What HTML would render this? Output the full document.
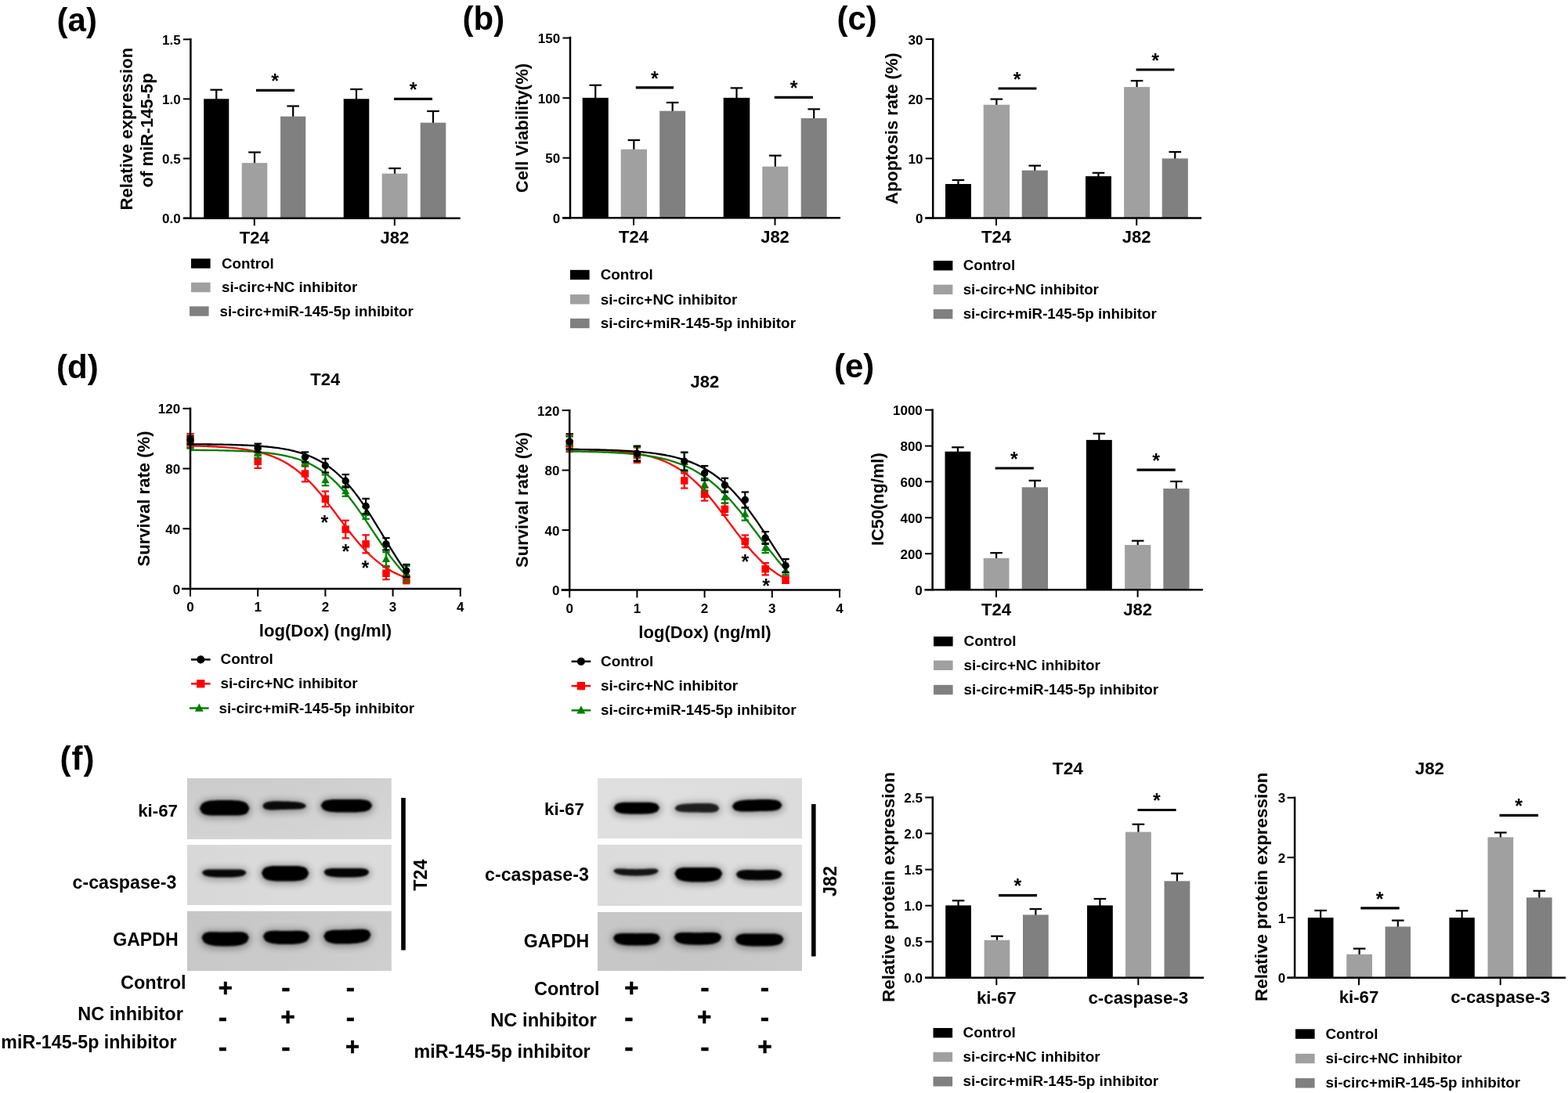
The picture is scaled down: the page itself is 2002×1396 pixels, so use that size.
<!DOCTYPE html>
<html lang="en">
<head>
<meta charset="utf-8">
<title>Figure</title>
<style>html,body{margin:0;padding:0;background:#fff;}svg{display:block;}text{font-family:"Liberation Sans",Arial,Helvetica,sans-serif;font-weight:bold;}</style>
</head>
<body>
<svg width="2002" height="1396" viewBox="0 0 2002 1396" font-family="'Liberation Sans', Arial, Helvetica, sans-serif" font-weight="bold">
<defs><filter id="blur1" x="-30%" y="-100%" width="160%" height="300%"><feGaussianBlur stdDeviation="1.3"/></filter><filter id="blur2" x="-30%" y="-100%" width="160%" height="300%"><feGaussianBlur stdDeviation="4.5"/></filter></defs>
<rect width="2002" height="1396" fill="#fff"/>
<text x="72.60" y="39.80" font-size="42" text-anchor="start" fill="#000">(a)</text>
<text x="590.60" y="37.60" font-size="42" text-anchor="start" fill="#000">(b)</text>
<text x="1068.40" y="38.00" font-size="42" text-anchor="start" fill="#000">(c)</text>
<text x="72.00" y="483.00" font-size="42" text-anchor="start" fill="#000">(d)</text>
<text x="1065.00" y="482.00" font-size="42" text-anchor="start" fill="#000">(e)</text>
<text x="76.50" y="983.00" font-size="42" text-anchor="start" fill="#000" letter-spacing="1">(f)</text>
<g id="pa">
<line x1="276.25" y1="114.70" x2="276.25" y2="127.60" stroke="#000000" stroke-width="2.2" stroke-linecap="butt"/>
<line x1="268.45" y1="114.70" x2="284.05" y2="114.70" stroke="#000" stroke-width="2.2" stroke-linecap="butt"/>
<rect x="260.20" y="126.30" width="32.10" height="152.40" fill="#000000"/>
<line x1="325.00" y1="194.50" x2="325.00" y2="209.40" stroke="#000" stroke-width="2.2" stroke-linecap="butt"/>
<line x1="317.20" y1="194.50" x2="332.80" y2="194.50" stroke="#000" stroke-width="2.2" stroke-linecap="butt"/>
<rect x="308.70" y="208.10" width="32.60" height="70.60" fill="#a0a0a1"/>
<line x1="374.20" y1="135.50" x2="374.20" y2="150.00" stroke="#000" stroke-width="2.2" stroke-linecap="butt"/>
<line x1="366.40" y1="135.50" x2="382.00" y2="135.50" stroke="#000" stroke-width="2.2" stroke-linecap="butt"/>
<rect x="358.10" y="148.70" width="32.20" height="130.00" fill="#808080"/>
<line x1="455.00" y1="114.00" x2="455.00" y2="127.60" stroke="#000000" stroke-width="2.2" stroke-linecap="butt"/>
<line x1="447.20" y1="114.00" x2="462.80" y2="114.00" stroke="#000" stroke-width="2.2" stroke-linecap="butt"/>
<rect x="438.70" y="126.30" width="32.60" height="152.40" fill="#000000"/>
<line x1="504.00" y1="215.00" x2="504.00" y2="223.00" stroke="#000" stroke-width="2.2" stroke-linecap="butt"/>
<line x1="496.20" y1="215.00" x2="511.80" y2="215.00" stroke="#000" stroke-width="2.2" stroke-linecap="butt"/>
<rect x="487.70" y="221.70" width="32.60" height="57.00" fill="#a0a0a1"/>
<line x1="553.00" y1="142.00" x2="553.00" y2="158.00" stroke="#000" stroke-width="2.2" stroke-linecap="butt"/>
<line x1="545.20" y1="142.00" x2="560.80" y2="142.00" stroke="#000" stroke-width="2.2" stroke-linecap="butt"/>
<rect x="536.70" y="156.70" width="32.60" height="122.00" fill="#808080"/>
<line x1="243.40" y1="49.05" x2="243.40" y2="279.95" stroke="#000" stroke-width="2.5" stroke-linecap="butt"/>
<line x1="234.00" y1="278.70" x2="587.70" y2="278.70" stroke="#000" stroke-width="2.5" stroke-linecap="butt"/>
<line x1="233.80" y1="50.30" x2="243.40" y2="50.30" stroke="#000" stroke-width="2.0" stroke-linecap="butt"/>
<text x="230.60" y="56.80" font-size="17" text-anchor="end" fill="#000">1.5</text>
<line x1="233.80" y1="126.40" x2="243.40" y2="126.40" stroke="#000" stroke-width="2.0" stroke-linecap="butt"/>
<text x="230.60" y="132.90" font-size="17" text-anchor="end" fill="#000">1.0</text>
<line x1="233.80" y1="202.50" x2="243.40" y2="202.50" stroke="#000" stroke-width="2.0" stroke-linecap="butt"/>
<text x="230.60" y="209.00" font-size="17" text-anchor="end" fill="#000">0.5</text>
<line x1="233.80" y1="278.70" x2="243.40" y2="278.70" stroke="#000" stroke-width="2.0" stroke-linecap="butt"/>
<text x="230.60" y="285.20" font-size="17" text-anchor="end" fill="#000">0.0</text>
<line x1="324.80" y1="278.70" x2="324.80" y2="288.20" stroke="#000" stroke-width="2.0" stroke-linecap="butt"/>
<text x="324.80" y="310.60" font-size="22" text-anchor="middle" fill="#000">T24</text>
<line x1="503.80" y1="278.70" x2="503.80" y2="288.20" stroke="#000" stroke-width="2.0" stroke-linecap="butt"/>
<text x="503.80" y="310.60" font-size="22" text-anchor="middle" fill="#000">J82</text>
<line x1="327.00" y1="115.40" x2="376.00" y2="115.40" stroke="#000" stroke-width="3.2" stroke-linecap="butt"/>
<text x="351.00" y="112.12" font-size="25" text-anchor="middle" fill="#000">*</text>
<line x1="503.00" y1="126.40" x2="552.00" y2="126.40" stroke="#000" stroke-width="3.2" stroke-linecap="butt"/>
<text x="527.50" y="123.12" font-size="25" text-anchor="middle" fill="#000">*</text>
<text x="168.70" y="164.60" font-size="22.1" text-anchor="middle" fill="#000" transform="rotate(-90 168.70 164.60)">Relative expression</text>
<text x="195.20" y="166.40" font-size="22.1" text-anchor="middle" fill="#000" transform="rotate(-90 195.20 166.40)">of miR-145-5p</text>
<rect x="244.00" y="330.30" width="24.60" height="12.40" fill="#000000"/>
<text x="283.00" y="342.50" font-size="18.74" text-anchor="start" fill="#000">Control</text>
<rect x="244.00" y="360.80" width="24.60" height="12.40" fill="#a0a0a1"/>
<text x="283.00" y="373.00" font-size="18.74" text-anchor="start" fill="#000">si-circ+NC inhibitor</text>
<rect x="242.00" y="391.30" width="24.60" height="12.40" fill="#808080"/>
<text x="280.50" y="403.50" font-size="18.74" text-anchor="start" fill="#000">si-circ+miR-145-5p inhibitor</text>
</g>
<g id="pb">
<line x1="760.25" y1="108.80" x2="760.25" y2="126.20" stroke="#000000" stroke-width="2.2" stroke-linecap="butt"/>
<line x1="752.45" y1="108.80" x2="768.05" y2="108.80" stroke="#000" stroke-width="2.2" stroke-linecap="butt"/>
<rect x="743.70" y="124.90" width="33.10" height="153.30" fill="#000000"/>
<line x1="809.35" y1="179.00" x2="809.35" y2="192.00" stroke="#000" stroke-width="2.2" stroke-linecap="butt"/>
<line x1="801.55" y1="179.00" x2="817.15" y2="179.00" stroke="#000" stroke-width="2.2" stroke-linecap="butt"/>
<rect x="792.70" y="190.70" width="33.30" height="87.50" fill="#a0a0a1"/>
<line x1="858.65" y1="131.00" x2="858.65" y2="143.00" stroke="#000" stroke-width="2.2" stroke-linecap="butt"/>
<line x1="850.85" y1="131.00" x2="866.45" y2="131.00" stroke="#000" stroke-width="2.2" stroke-linecap="butt"/>
<rect x="842.20" y="141.70" width="32.90" height="136.50" fill="#808080"/>
<line x1="940.50" y1="112.40" x2="940.50" y2="126.20" stroke="#000000" stroke-width="2.2" stroke-linecap="butt"/>
<line x1="932.70" y1="112.40" x2="948.30" y2="112.40" stroke="#000" stroke-width="2.2" stroke-linecap="butt"/>
<rect x="923.70" y="124.90" width="33.60" height="153.30" fill="#000000"/>
<line x1="989.80" y1="198.70" x2="989.80" y2="214.00" stroke="#000" stroke-width="2.2" stroke-linecap="butt"/>
<line x1="982.00" y1="198.70" x2="997.60" y2="198.70" stroke="#000" stroke-width="2.2" stroke-linecap="butt"/>
<rect x="973.30" y="212.70" width="33.00" height="65.50" fill="#a0a0a1"/>
<line x1="1039.20" y1="139.40" x2="1039.20" y2="152.30" stroke="#000" stroke-width="2.2" stroke-linecap="butt"/>
<line x1="1031.40" y1="139.40" x2="1047.00" y2="139.40" stroke="#000" stroke-width="2.2" stroke-linecap="butt"/>
<rect x="1022.70" y="151.00" width="33.00" height="127.20" fill="#808080"/>
<line x1="728.00" y1="46.75" x2="728.00" y2="279.45" stroke="#000" stroke-width="2.5" stroke-linecap="butt"/>
<line x1="718.00" y1="278.20" x2="1073.00" y2="278.20" stroke="#000" stroke-width="2.5" stroke-linecap="butt"/>
<line x1="718.40" y1="48.50" x2="728.00" y2="48.50" stroke="#000" stroke-width="2.0" stroke-linecap="butt"/>
<text x="715.20" y="55.00" font-size="17" text-anchor="end" fill="#000">150</text>
<line x1="718.40" y1="125.20" x2="728.00" y2="125.20" stroke="#000" stroke-width="2.0" stroke-linecap="butt"/>
<text x="715.20" y="131.70" font-size="17" text-anchor="end" fill="#000">100</text>
<line x1="718.40" y1="201.70" x2="728.00" y2="201.70" stroke="#000" stroke-width="2.0" stroke-linecap="butt"/>
<text x="715.20" y="208.20" font-size="17" text-anchor="end" fill="#000">50</text>
<line x1="718.40" y1="278.50" x2="728.00" y2="278.50" stroke="#000" stroke-width="2.0" stroke-linecap="butt"/>
<text x="715.20" y="285.00" font-size="17" text-anchor="end" fill="#000">0</text>
<line x1="809.00" y1="278.20" x2="809.00" y2="287.70" stroke="#000" stroke-width="2.0" stroke-linecap="butt"/>
<text x="809.00" y="310.40" font-size="22" text-anchor="middle" fill="#000">T24</text>
<line x1="989.50" y1="278.20" x2="989.50" y2="287.70" stroke="#000" stroke-width="2.0" stroke-linecap="butt"/>
<text x="989.50" y="310.40" font-size="22" text-anchor="middle" fill="#000">J82</text>
<line x1="811.80" y1="111.80" x2="860.00" y2="111.80" stroke="#000" stroke-width="3.2" stroke-linecap="butt"/>
<text x="835.90" y="108.52" font-size="25" text-anchor="middle" fill="#000">*</text>
<line x1="988.80" y1="124.30" x2="1038.00" y2="124.30" stroke="#000" stroke-width="3.2" stroke-linecap="butt"/>
<text x="1013.50" y="121.02" font-size="25" text-anchor="middle" fill="#000">*</text>
<text x="674.00" y="163.50" font-size="22.1" text-anchor="middle" fill="#000" transform="rotate(-90 674.00 163.50)">Cell Viability(%)</text>
<rect x="728.00" y="344.80" width="24.60" height="12.40" fill="#000000"/>
<text x="766.70" y="357.20" font-size="18.9" text-anchor="start" fill="#000">Control</text>
<rect x="728.00" y="376.10" width="24.60" height="12.40" fill="#a0a0a1"/>
<text x="766.70" y="388.50" font-size="18.9" text-anchor="start" fill="#000">si-circ+NC inhibitor</text>
<rect x="728.00" y="406.80" width="24.60" height="12.40" fill="#808080"/>
<text x="766.70" y="419.20" font-size="18.9" text-anchor="start" fill="#000">si-circ+miR-145-5p inhibitor</text>
</g>
<g id="pc">
<line x1="1223.45" y1="230.00" x2="1223.45" y2="236.30" stroke="#000000" stroke-width="2.2" stroke-linecap="butt"/>
<line x1="1215.65" y1="230.00" x2="1231.25" y2="230.00" stroke="#000" stroke-width="2.2" stroke-linecap="butt"/>
<rect x="1207.00" y="235.00" width="32.90" height="43.50" fill="#000000"/>
<line x1="1272.35" y1="126.60" x2="1272.35" y2="135.10" stroke="#000" stroke-width="2.2" stroke-linecap="butt"/>
<line x1="1264.55" y1="126.60" x2="1280.15" y2="126.60" stroke="#000" stroke-width="2.2" stroke-linecap="butt"/>
<rect x="1255.70" y="133.80" width="33.30" height="144.70" fill="#a0a0a1"/>
<line x1="1321.25" y1="211.60" x2="1321.25" y2="218.90" stroke="#000" stroke-width="2.2" stroke-linecap="butt"/>
<line x1="1313.45" y1="211.60" x2="1329.05" y2="211.60" stroke="#000" stroke-width="2.2" stroke-linecap="butt"/>
<rect x="1304.70" y="217.60" width="33.10" height="60.90" fill="#808080"/>
<line x1="1402.45" y1="220.80" x2="1402.45" y2="226.40" stroke="#000000" stroke-width="2.2" stroke-linecap="butt"/>
<line x1="1394.65" y1="220.80" x2="1410.25" y2="220.80" stroke="#000" stroke-width="2.2" stroke-linecap="butt"/>
<rect x="1386.00" y="225.10" width="32.90" height="53.40" fill="#000000"/>
<line x1="1451.55" y1="103.20" x2="1451.55" y2="112.40" stroke="#000" stroke-width="2.2" stroke-linecap="butt"/>
<line x1="1443.75" y1="103.20" x2="1459.35" y2="103.20" stroke="#000" stroke-width="2.2" stroke-linecap="butt"/>
<rect x="1435.10" y="111.10" width="32.90" height="167.40" fill="#a0a0a1"/>
<line x1="1500.25" y1="194.10" x2="1500.25" y2="203.70" stroke="#000" stroke-width="2.2" stroke-linecap="butt"/>
<line x1="1492.45" y1="194.10" x2="1508.05" y2="194.10" stroke="#000" stroke-width="2.2" stroke-linecap="butt"/>
<rect x="1483.70" y="202.40" width="33.10" height="76.10" fill="#808080"/>
<line x1="1191.20" y1="48.75" x2="1191.20" y2="279.75" stroke="#000" stroke-width="2.5" stroke-linecap="butt"/>
<line x1="1181.30" y1="278.50" x2="1534.00" y2="278.50" stroke="#000" stroke-width="2.5" stroke-linecap="butt"/>
<line x1="1181.60" y1="50.00" x2="1191.20" y2="50.00" stroke="#000" stroke-width="2.0" stroke-linecap="butt"/>
<text x="1178.40" y="56.50" font-size="17" text-anchor="end" fill="#000">30</text>
<line x1="1181.60" y1="126.20" x2="1191.20" y2="126.20" stroke="#000" stroke-width="2.0" stroke-linecap="butt"/>
<text x="1178.40" y="132.70" font-size="17" text-anchor="end" fill="#000">20</text>
<line x1="1181.60" y1="202.40" x2="1191.20" y2="202.40" stroke="#000" stroke-width="2.0" stroke-linecap="butt"/>
<text x="1178.40" y="208.90" font-size="17" text-anchor="end" fill="#000">10</text>
<line x1="1181.60" y1="278.50" x2="1191.20" y2="278.50" stroke="#000" stroke-width="2.0" stroke-linecap="butt"/>
<text x="1178.40" y="285.00" font-size="17" text-anchor="end" fill="#000">0</text>
<line x1="1272.00" y1="278.50" x2="1272.00" y2="288.00" stroke="#000" stroke-width="2.0" stroke-linecap="butt"/>
<text x="1272.00" y="310.40" font-size="22" text-anchor="middle" fill="#000">T24</text>
<line x1="1451.20" y1="278.50" x2="1451.20" y2="288.00" stroke="#000" stroke-width="2.0" stroke-linecap="butt"/>
<text x="1451.20" y="310.40" font-size="22" text-anchor="middle" fill="#000">J82</text>
<line x1="1274.60" y1="113.00" x2="1323.40" y2="113.00" stroke="#000" stroke-width="3.2" stroke-linecap="butt"/>
<text x="1298.60" y="109.72" font-size="25" text-anchor="middle" fill="#000">*</text>
<line x1="1450.60" y1="89.00" x2="1499.40" y2="89.00" stroke="#000" stroke-width="3.2" stroke-linecap="butt"/>
<text x="1475.00" y="85.72" font-size="25" text-anchor="middle" fill="#000">*</text>
<text x="1146.50" y="164.20" font-size="21.9" text-anchor="middle" fill="#000" transform="rotate(-90 1146.50 164.20)">Apoptosis rate (%)</text>
<rect x="1191.80" y="333.00" width="24.60" height="12.40" fill="#000000"/>
<text x="1229.70" y="345.00" font-size="18.73" text-anchor="start" fill="#000">Control</text>
<rect x="1191.80" y="363.60" width="24.60" height="12.40" fill="#a0a0a1"/>
<text x="1229.70" y="375.60" font-size="18.73" text-anchor="start" fill="#000">si-circ+NC inhibitor</text>
<rect x="1191.80" y="394.90" width="24.60" height="12.40" fill="#808080"/>
<text x="1229.70" y="406.90" font-size="18.73" text-anchor="start" fill="#000">si-circ+miR-145-5p inhibitor</text>
</g>
<g id="pe">
<line x1="1222.90" y1="571.30" x2="1222.90" y2="578.00" stroke="#000000" stroke-width="2.2" stroke-linecap="butt"/>
<line x1="1215.10" y1="571.30" x2="1230.70" y2="571.30" stroke="#000" stroke-width="2.2" stroke-linecap="butt"/>
<rect x="1206.50" y="576.70" width="32.80" height="176.50" fill="#000000"/>
<line x1="1272.10" y1="706.20" x2="1272.10" y2="714.20" stroke="#000" stroke-width="2.2" stroke-linecap="butt"/>
<line x1="1264.30" y1="706.20" x2="1279.90" y2="706.20" stroke="#000" stroke-width="2.2" stroke-linecap="butt"/>
<rect x="1255.70" y="712.90" width="32.80" height="40.30" fill="#a0a0a1"/>
<line x1="1321.35" y1="613.80" x2="1321.35" y2="623.60" stroke="#000" stroke-width="2.2" stroke-linecap="butt"/>
<line x1="1313.55" y1="613.80" x2="1329.15" y2="613.80" stroke="#000" stroke-width="2.2" stroke-linecap="butt"/>
<rect x="1304.70" y="622.30" width="33.30" height="130.90" fill="#808080"/>
<line x1="1403.35" y1="553.80" x2="1403.35" y2="563.20" stroke="#000000" stroke-width="2.2" stroke-linecap="butt"/>
<line x1="1395.55" y1="553.80" x2="1411.15" y2="553.80" stroke="#000" stroke-width="2.2" stroke-linecap="butt"/>
<rect x="1386.90" y="561.90" width="32.90" height="191.30" fill="#000000"/>
<line x1="1452.70" y1="690.70" x2="1452.70" y2="697.30" stroke="#000" stroke-width="2.2" stroke-linecap="butt"/>
<line x1="1444.90" y1="690.70" x2="1460.50" y2="690.70" stroke="#000" stroke-width="2.2" stroke-linecap="butt"/>
<rect x="1436.10" y="696.00" width="33.20" height="57.20" fill="#a0a0a1"/>
<line x1="1501.90" y1="614.90" x2="1501.90" y2="625.30" stroke="#000" stroke-width="2.2" stroke-linecap="butt"/>
<line x1="1494.10" y1="614.90" x2="1509.70" y2="614.90" stroke="#000" stroke-width="2.2" stroke-linecap="butt"/>
<rect x="1485.30" y="624.00" width="33.20" height="129.20" fill="#808080"/>
<line x1="1190.60" y1="522.35" x2="1190.60" y2="754.45" stroke="#000" stroke-width="2.5" stroke-linecap="butt"/>
<line x1="1180.40" y1="753.20" x2="1535.80" y2="753.20" stroke="#000" stroke-width="2.5" stroke-linecap="butt"/>
<line x1="1181.00" y1="523.60" x2="1190.60" y2="523.60" stroke="#000" stroke-width="2.0" stroke-linecap="butt"/>
<text x="1177.80" y="530.10" font-size="17" text-anchor="end" fill="#000">1000</text>
<line x1="1181.00" y1="569.60" x2="1190.60" y2="569.60" stroke="#000" stroke-width="2.0" stroke-linecap="butt"/>
<text x="1177.80" y="576.10" font-size="17" text-anchor="end" fill="#000">800</text>
<line x1="1181.00" y1="615.20" x2="1190.60" y2="615.20" stroke="#000" stroke-width="2.0" stroke-linecap="butt"/>
<text x="1177.80" y="621.70" font-size="17" text-anchor="end" fill="#000">600</text>
<line x1="1181.00" y1="661.20" x2="1190.60" y2="661.20" stroke="#000" stroke-width="2.0" stroke-linecap="butt"/>
<text x="1177.80" y="667.70" font-size="17" text-anchor="end" fill="#000">400</text>
<line x1="1181.00" y1="707.20" x2="1190.60" y2="707.20" stroke="#000" stroke-width="2.0" stroke-linecap="butt"/>
<text x="1177.80" y="713.70" font-size="17" text-anchor="end" fill="#000">200</text>
<line x1="1181.00" y1="753.20" x2="1190.60" y2="753.20" stroke="#000" stroke-width="2.0" stroke-linecap="butt"/>
<text x="1177.80" y="759.70" font-size="17" text-anchor="end" fill="#000">0</text>
<line x1="1272.00" y1="753.20" x2="1272.00" y2="762.70" stroke="#000" stroke-width="2.0" stroke-linecap="butt"/>
<text x="1272.00" y="785.90" font-size="22" text-anchor="middle" fill="#000">T24</text>
<line x1="1452.60" y1="753.20" x2="1452.60" y2="762.70" stroke="#000" stroke-width="2.0" stroke-linecap="butt"/>
<text x="1452.60" y="785.90" font-size="22" text-anchor="middle" fill="#000">J82</text>
<line x1="1270.70" y1="598.00" x2="1319.80" y2="598.00" stroke="#000" stroke-width="3.2" stroke-linecap="butt"/>
<text x="1294.90" y="594.73" font-size="25" text-anchor="middle" fill="#000">*</text>
<line x1="1451.50" y1="600.10" x2="1500.70" y2="600.10" stroke="#000" stroke-width="3.2" stroke-linecap="butt"/>
<text x="1476.00" y="596.83" font-size="25" text-anchor="middle" fill="#000">*</text>
<text x="1128.00" y="637.70" font-size="21.8" text-anchor="middle" fill="#000" transform="rotate(-90 1128.00 637.70)">IC50(ng/ml)</text>
<rect x="1192.00" y="813.00" width="24.60" height="12.40" fill="#000000"/>
<text x="1230.60" y="825.20" font-size="18.84" text-anchor="start" fill="#000">Control</text>
<rect x="1192.00" y="843.60" width="24.60" height="12.40" fill="#a0a0a1"/>
<text x="1230.60" y="855.80" font-size="18.84" text-anchor="start" fill="#000">si-circ+NC inhibitor</text>
<rect x="1192.00" y="874.80" width="24.60" height="12.40" fill="#808080"/>
<text x="1230.60" y="887.00" font-size="18.84" text-anchor="start" fill="#000">si-circ+miR-145-5p inhibitor</text>
</g>
<g id="pf1">
<line x1="1223.55" y1="1150.30" x2="1223.55" y2="1157.70" stroke="#000000" stroke-width="2.2" stroke-linecap="butt"/>
<line x1="1215.75" y1="1150.30" x2="1231.35" y2="1150.30" stroke="#000" stroke-width="2.2" stroke-linecap="butt"/>
<rect x="1207.20" y="1156.40" width="32.70" height="92.30" fill="#000000"/>
<line x1="1272.95" y1="1195.70" x2="1272.95" y2="1202.00" stroke="#000" stroke-width="2.2" stroke-linecap="butt"/>
<line x1="1265.15" y1="1195.70" x2="1280.75" y2="1195.70" stroke="#000" stroke-width="2.2" stroke-linecap="butt"/>
<rect x="1256.60" y="1200.70" width="32.70" height="48.00" fill="#a0a0a1"/>
<line x1="1322.35" y1="1161.00" x2="1322.35" y2="1169.70" stroke="#000" stroke-width="2.2" stroke-linecap="butt"/>
<line x1="1314.55" y1="1161.00" x2="1330.15" y2="1161.00" stroke="#000" stroke-width="2.2" stroke-linecap="butt"/>
<rect x="1306.00" y="1168.40" width="32.70" height="80.30" fill="#808080"/>
<line x1="1404.40" y1="1148.00" x2="1404.40" y2="1157.70" stroke="#000000" stroke-width="2.2" stroke-linecap="butt"/>
<line x1="1396.60" y1="1148.00" x2="1412.20" y2="1148.00" stroke="#000" stroke-width="2.2" stroke-linecap="butt"/>
<rect x="1388.00" y="1156.40" width="32.80" height="92.30" fill="#000000"/>
<line x1="1453.40" y1="1052.80" x2="1453.40" y2="1063.90" stroke="#000" stroke-width="2.2" stroke-linecap="butt"/>
<line x1="1445.60" y1="1052.80" x2="1461.20" y2="1052.80" stroke="#000" stroke-width="2.2" stroke-linecap="butt"/>
<rect x="1437.00" y="1062.60" width="32.80" height="186.10" fill="#a0a0a1"/>
<line x1="1502.90" y1="1115.60" x2="1502.90" y2="1126.60" stroke="#000" stroke-width="2.2" stroke-linecap="butt"/>
<line x1="1495.10" y1="1115.60" x2="1510.70" y2="1115.60" stroke="#000" stroke-width="2.2" stroke-linecap="butt"/>
<rect x="1486.50" y="1125.30" width="32.80" height="123.40" fill="#808080"/>
<line x1="1190.80" y1="1017.25" x2="1190.80" y2="1249.95" stroke="#000" stroke-width="2.5" stroke-linecap="butt"/>
<line x1="1181.00" y1="1248.70" x2="1537.00" y2="1248.70" stroke="#000" stroke-width="2.5" stroke-linecap="butt"/>
<line x1="1181.20" y1="1018.50" x2="1190.80" y2="1018.50" stroke="#000" stroke-width="2.0" stroke-linecap="butt"/>
<text x="1178.00" y="1025.00" font-size="17" text-anchor="end" fill="#000">2.5</text>
<line x1="1181.20" y1="1064.50" x2="1190.80" y2="1064.50" stroke="#000" stroke-width="2.0" stroke-linecap="butt"/>
<text x="1178.00" y="1071.00" font-size="17" text-anchor="end" fill="#000">2.0</text>
<line x1="1181.20" y1="1110.60" x2="1190.80" y2="1110.60" stroke="#000" stroke-width="2.0" stroke-linecap="butt"/>
<text x="1178.00" y="1117.10" font-size="17" text-anchor="end" fill="#000">1.5</text>
<line x1="1181.20" y1="1156.70" x2="1190.80" y2="1156.70" stroke="#000" stroke-width="2.0" stroke-linecap="butt"/>
<text x="1178.00" y="1163.20" font-size="17" text-anchor="end" fill="#000">1.0</text>
<line x1="1181.20" y1="1202.70" x2="1190.80" y2="1202.70" stroke="#000" stroke-width="2.0" stroke-linecap="butt"/>
<text x="1178.00" y="1209.20" font-size="17" text-anchor="end" fill="#000">0.5</text>
<line x1="1181.20" y1="1248.70" x2="1190.80" y2="1248.70" stroke="#000" stroke-width="2.0" stroke-linecap="butt"/>
<text x="1178.00" y="1255.20" font-size="17" text-anchor="end" fill="#000">0.0</text>
<line x1="1272.30" y1="1248.70" x2="1272.30" y2="1258.20" stroke="#000" stroke-width="2.0" stroke-linecap="butt"/>
<text x="1272.30" y="1281.60" font-size="22.3" text-anchor="middle" fill="#000">ki-67</text>
<line x1="1453.30" y1="1248.70" x2="1453.30" y2="1258.20" stroke="#000" stroke-width="2.0" stroke-linecap="butt"/>
<text x="1453.30" y="1281.60" font-size="22.3" text-anchor="middle" fill="#000">c-caspase-3</text>
<line x1="1275.00" y1="1143.60" x2="1324.00" y2="1143.60" stroke="#000" stroke-width="3.2" stroke-linecap="butt"/>
<text x="1299.30" y="1140.32" font-size="25" text-anchor="middle" fill="#000">*</text>
<line x1="1452.50" y1="1034.50" x2="1501.60" y2="1034.50" stroke="#000" stroke-width="3.2" stroke-linecap="butt"/>
<text x="1476.90" y="1031.22" font-size="25" text-anchor="middle" fill="#000">*</text>
<text x="1142.30" y="1133.00" font-size="22.5" text-anchor="middle" fill="#000" transform="rotate(-90 1142.30 1133.00)">Relative protein expression</text>
<rect x="1191.50" y="1313.00" width="24.60" height="12.40" fill="#000000"/>
<text x="1229.50" y="1325.10" font-size="18.93" text-anchor="start" fill="#000">Control</text>
<rect x="1191.50" y="1343.80" width="24.60" height="12.40" fill="#a0a0a1"/>
<text x="1229.50" y="1355.90" font-size="18.93" text-anchor="start" fill="#000">si-circ+NC inhibitor</text>
<rect x="1191.50" y="1375.10" width="24.60" height="12.40" fill="#808080"/>
<text x="1229.50" y="1387.20" font-size="18.93" text-anchor="start" fill="#000">si-circ+miR-145-5p inhibitor</text>
<text x="1363.40" y="988.50" font-size="22.7" text-anchor="middle" fill="#000">T24</text>
</g>
<g id="pf2">
<line x1="1686.15" y1="1162.90" x2="1686.15" y2="1173.30" stroke="#000000" stroke-width="2.2" stroke-linecap="butt"/>
<line x1="1678.35" y1="1162.90" x2="1693.95" y2="1162.90" stroke="#000" stroke-width="2.2" stroke-linecap="butt"/>
<rect x="1669.80" y="1172.00" width="32.70" height="76.70" fill="#000000"/>
<line x1="1735.60" y1="1211.60" x2="1735.60" y2="1220.20" stroke="#000" stroke-width="2.2" stroke-linecap="butt"/>
<line x1="1727.80" y1="1211.60" x2="1743.40" y2="1211.60" stroke="#000" stroke-width="2.2" stroke-linecap="butt"/>
<rect x="1719.20" y="1218.90" width="32.80" height="29.80" fill="#a0a0a1"/>
<line x1="1784.80" y1="1175.60" x2="1784.80" y2="1184.80" stroke="#000" stroke-width="2.2" stroke-linecap="butt"/>
<line x1="1777.00" y1="1175.60" x2="1792.60" y2="1175.60" stroke="#000" stroke-width="2.2" stroke-linecap="butt"/>
<rect x="1768.60" y="1183.50" width="32.40" height="65.20" fill="#808080"/>
<line x1="1866.60" y1="1163.20" x2="1866.60" y2="1173.30" stroke="#000000" stroke-width="2.2" stroke-linecap="butt"/>
<line x1="1858.80" y1="1163.20" x2="1874.40" y2="1163.20" stroke="#000" stroke-width="2.2" stroke-linecap="butt"/>
<rect x="1850.40" y="1172.00" width="32.40" height="76.70" fill="#000000"/>
<line x1="1915.85" y1="1063.40" x2="1915.85" y2="1070.60" stroke="#000" stroke-width="2.2" stroke-linecap="butt"/>
<line x1="1908.05" y1="1063.40" x2="1923.65" y2="1063.40" stroke="#000" stroke-width="2.2" stroke-linecap="butt"/>
<rect x="1899.50" y="1069.30" width="32.70" height="179.40" fill="#a0a0a1"/>
<line x1="1965.30" y1="1137.80" x2="1965.30" y2="1147.60" stroke="#000" stroke-width="2.2" stroke-linecap="butt"/>
<line x1="1957.50" y1="1137.80" x2="1973.10" y2="1137.80" stroke="#000" stroke-width="2.2" stroke-linecap="butt"/>
<rect x="1949.00" y="1146.30" width="32.60" height="102.40" fill="#808080"/>
<line x1="1653.10" y1="1017.55" x2="1653.10" y2="1249.95" stroke="#000" stroke-width="2.5" stroke-linecap="butt"/>
<line x1="1643.50" y1="1248.70" x2="1999.00" y2="1248.70" stroke="#000" stroke-width="2.5" stroke-linecap="butt"/>
<line x1="1643.50" y1="1018.80" x2="1653.10" y2="1018.80" stroke="#000" stroke-width="2.0" stroke-linecap="butt"/>
<text x="1641.10" y="1025.30" font-size="17" text-anchor="end" fill="#000">3</text>
<line x1="1643.50" y1="1095.20" x2="1653.10" y2="1095.20" stroke="#000" stroke-width="2.0" stroke-linecap="butt"/>
<text x="1641.10" y="1101.70" font-size="17" text-anchor="end" fill="#000">2</text>
<line x1="1643.50" y1="1172.00" x2="1653.10" y2="1172.00" stroke="#000" stroke-width="2.0" stroke-linecap="butt"/>
<text x="1641.10" y="1178.50" font-size="17" text-anchor="end" fill="#000">1</text>
<line x1="1643.50" y1="1248.70" x2="1653.10" y2="1248.70" stroke="#000" stroke-width="2.0" stroke-linecap="butt"/>
<text x="1641.10" y="1255.20" font-size="17" text-anchor="end" fill="#000">0</text>
<line x1="1735.00" y1="1248.70" x2="1735.00" y2="1258.20" stroke="#000" stroke-width="2.0" stroke-linecap="butt"/>
<text x="1735.00" y="1280.60" font-size="22.2" text-anchor="middle" fill="#000">ki-67</text>
<line x1="1915.70" y1="1248.70" x2="1915.70" y2="1258.20" stroke="#000" stroke-width="2.0" stroke-linecap="butt"/>
<text x="1915.70" y="1280.60" font-size="22.2" text-anchor="middle" fill="#000">c-caspase-3</text>
<line x1="1737.30" y1="1159.90" x2="1786.70" y2="1159.90" stroke="#000" stroke-width="3.2" stroke-linecap="butt"/>
<text x="1761.60" y="1156.62" font-size="25" text-anchor="middle" fill="#000">*</text>
<line x1="1914.50" y1="1041.40" x2="1964.00" y2="1041.40" stroke="#000" stroke-width="3.2" stroke-linecap="butt"/>
<text x="1939.00" y="1038.12" font-size="25" text-anchor="middle" fill="#000">*</text>
<text x="1618.20" y="1132.70" font-size="22.4" text-anchor="middle" fill="#000" transform="rotate(-90 1618.20 1132.70)">Relative protein expression</text>
<rect x="1654.00" y="1314.40" width="24.60" height="12.40" fill="#000000"/>
<text x="1692.50" y="1326.50" font-size="18.83" text-anchor="start" fill="#000">Control</text>
<rect x="1654.00" y="1345.80" width="24.60" height="12.40" fill="#a0a0a1"/>
<text x="1692.50" y="1357.90" font-size="18.83" text-anchor="start" fill="#000">si-circ+NC inhibitor</text>
<rect x="1654.00" y="1377.10" width="24.60" height="12.40" fill="#808080"/>
<text x="1692.50" y="1389.20" font-size="18.83" text-anchor="start" fill="#000">si-circ+miR-145-5p inhibitor</text>
<text x="1825.40" y="988.70" font-size="22.3" text-anchor="middle" fill="#000">J82</text>
</g>
<g id="pd1">
<polyline points="243.0,569.4 245.9,569.4 248.7,569.5 251.6,569.6 254.5,569.7 257.4,569.7 260.2,569.8 263.1,569.9 266.0,570.0 268.9,570.2 271.7,570.3 274.6,570.4 277.5,570.6 280.4,570.8 283.2,570.9 286.1,571.1 289.0,571.3 291.8,571.6 294.7,571.8 297.6,572.1 300.5,572.4 303.3,572.7 306.2,573.1 309.1,573.5 312.0,573.9 314.8,574.3 317.7,574.8 320.6,575.3 323.5,575.9 326.3,576.5 329.2,577.1 332.1,577.9 334.9,578.6 337.8,579.5 340.7,580.4 343.6,581.3 346.4,582.3 349.3,583.5 352.2,584.7 355.1,585.9 357.9,587.3 360.8,588.8 363.7,590.3 366.6,592.0 369.4,593.8 372.3,595.7 375.2,597.7 378.0,599.8 380.9,602.1 383.8,604.5 386.7,607.0 389.5,609.6 392.4,612.3 395.3,615.2 398.2,618.2 401.0,621.3 403.9,624.6 406.8,627.9 409.7,631.3 412.5,634.9 415.4,638.5 418.3,642.2 421.1,645.9 424.0,649.7 426.9,653.5 429.8,657.4 432.6,661.2 435.5,665.1 438.4,668.9 441.3,672.7 444.1,676.5 447.0,680.2 449.9,683.8 452.8,687.4 455.6,690.8 458.5,694.2 461.4,697.4 464.2,700.6 467.1,703.6 470.0,706.5 472.9,709.3 475.7,712.0 478.6,714.5 481.5,716.9 484.4,719.2 487.2,721.3 490.1,723.4 493.0,725.3 495.9,727.1 498.7,728.8 501.6,730.4 504.5,731.9 507.3,733.2 510.2,734.5 513.1,735.8 516.0,736.9 518.8,737.9" fill="none" stroke="#ff0000" stroke-width="2.3" stroke-linejoin="round"/>
<line x1="243.00" y1="554.03" x2="243.00" y2="571.29" stroke="#ff0000" stroke-width="2.2" stroke-linecap="butt"/>
<line x1="238.30" y1="554.03" x2="247.70" y2="554.03" stroke="#ff0000" stroke-width="2.2" stroke-linecap="butt"/>
<line x1="238.30" y1="571.29" x2="247.70" y2="571.29" stroke="#ff0000" stroke-width="2.2" stroke-linecap="butt"/>
<rect x="238.25" y="557.91" width="9.50" height="9.50" fill="#ff0000"/>
<line x1="329.20" y1="580.69" x2="329.20" y2="597.96" stroke="#ff0000" stroke-width="2.2" stroke-linecap="butt"/>
<line x1="324.50" y1="580.69" x2="333.90" y2="580.69" stroke="#ff0000" stroke-width="2.2" stroke-linecap="butt"/>
<line x1="324.50" y1="597.96" x2="333.90" y2="597.96" stroke="#ff0000" stroke-width="2.2" stroke-linecap="butt"/>
<rect x="324.45" y="584.58" width="9.50" height="9.50" fill="#ff0000"/>
<line x1="389.54" y1="594.89" x2="389.54" y2="615.22" stroke="#ff0000" stroke-width="2.2" stroke-linecap="butt"/>
<line x1="384.84" y1="594.89" x2="394.24" y2="594.89" stroke="#ff0000" stroke-width="2.2" stroke-linecap="butt"/>
<line x1="384.84" y1="615.22" x2="394.24" y2="615.22" stroke="#ff0000" stroke-width="2.2" stroke-linecap="butt"/>
<rect x="384.79" y="600.31" width="9.50" height="9.50" fill="#ff0000"/>
<line x1="415.40" y1="627.50" x2="415.40" y2="647.07" stroke="#ff0000" stroke-width="2.2" stroke-linecap="butt"/>
<line x1="410.70" y1="627.50" x2="420.10" y2="627.50" stroke="#ff0000" stroke-width="2.2" stroke-linecap="butt"/>
<line x1="410.70" y1="647.07" x2="420.10" y2="647.07" stroke="#ff0000" stroke-width="2.2" stroke-linecap="butt"/>
<rect x="410.65" y="632.53" width="9.50" height="9.50" fill="#ff0000"/>
<line x1="441.26" y1="664.72" x2="441.26" y2="687.35" stroke="#ff0000" stroke-width="2.2" stroke-linecap="butt"/>
<line x1="436.56" y1="664.72" x2="445.96" y2="664.72" stroke="#ff0000" stroke-width="2.2" stroke-linecap="butt"/>
<line x1="436.56" y1="687.35" x2="445.96" y2="687.35" stroke="#ff0000" stroke-width="2.2" stroke-linecap="butt"/>
<rect x="436.51" y="671.28" width="9.50" height="9.50" fill="#ff0000"/>
<line x1="467.12" y1="683.32" x2="467.12" y2="706.34" stroke="#ff0000" stroke-width="2.2" stroke-linecap="butt"/>
<line x1="462.42" y1="683.32" x2="471.82" y2="683.32" stroke="#ff0000" stroke-width="2.2" stroke-linecap="butt"/>
<line x1="462.42" y1="706.34" x2="471.82" y2="706.34" stroke="#ff0000" stroke-width="2.2" stroke-linecap="butt"/>
<rect x="462.37" y="690.08" width="9.50" height="9.50" fill="#ff0000"/>
<line x1="492.98" y1="724.38" x2="492.98" y2="740.11" stroke="#ff0000" stroke-width="2.2" stroke-linecap="butt"/>
<line x1="488.28" y1="724.38" x2="497.68" y2="724.38" stroke="#ff0000" stroke-width="2.2" stroke-linecap="butt"/>
<line x1="488.28" y1="740.11" x2="497.68" y2="740.11" stroke="#ff0000" stroke-width="2.2" stroke-linecap="butt"/>
<rect x="488.23" y="727.49" width="9.50" height="9.50" fill="#ff0000"/>
<line x1="518.84" y1="734.54" x2="518.84" y2="745.29" stroke="#ff0000" stroke-width="2.2" stroke-linecap="butt"/>
<line x1="514.14" y1="734.54" x2="523.54" y2="734.54" stroke="#ff0000" stroke-width="2.2" stroke-linecap="butt"/>
<line x1="514.14" y1="745.29" x2="523.54" y2="745.29" stroke="#ff0000" stroke-width="2.2" stroke-linecap="butt"/>
<rect x="514.09" y="735.16" width="9.50" height="9.50" fill="#ff0000"/>
<polyline points="243.0,574.8 245.9,574.9 248.7,574.9 251.6,574.9 254.5,574.9 257.4,575.0 260.2,575.0 263.1,575.0 266.0,575.1 268.9,575.1 271.7,575.1 274.6,575.2 277.5,575.2 280.4,575.3 283.2,575.3 286.1,575.4 289.0,575.5 291.8,575.5 294.7,575.6 297.6,575.7 300.5,575.8 303.3,575.9 306.2,576.0 309.1,576.1 312.0,576.3 314.8,576.4 317.7,576.6 320.6,576.7 323.5,576.9 326.3,577.1 329.2,577.3 332.1,577.6 334.9,577.8 337.8,578.1 340.7,578.4 343.6,578.7 346.4,579.1 349.3,579.5 352.2,579.9 355.1,580.4 357.9,580.8 360.8,581.4 363.7,582.0 366.6,582.6 369.4,583.3 372.3,584.0 375.2,584.8 378.0,585.6 380.9,586.5 383.8,587.5 386.7,588.6 389.5,589.7 392.4,591.0 395.3,592.3 398.2,593.7 401.0,595.2 403.9,596.9 406.8,598.6 409.7,600.5 412.5,602.4 415.4,604.5 418.3,606.8 421.1,609.1 424.0,611.7 426.9,614.3 429.8,617.1 432.6,620.0 435.5,623.1 438.4,626.3 441.3,629.6 444.1,633.1 447.0,636.7 449.9,640.5 452.8,644.3 455.6,648.2 458.5,652.3 461.4,656.4 464.2,660.6 467.1,664.9 470.0,669.2 472.9,673.5 475.7,677.8 478.6,682.1 481.5,686.5 484.4,690.7 487.2,695.0 490.1,699.1 493.0,703.2 495.9,707.2 498.7,711.1 501.6,714.9 504.5,718.5 507.3,722.1 510.2,725.5 513.1,728.8 516.0,731.9 518.8,734.9" fill="none" stroke="#007f00" stroke-width="2.3" stroke-linejoin="round"/>
<line x1="243.00" y1="559.21" x2="243.00" y2="572.64" stroke="#007f00" stroke-width="2.2" stroke-linecap="butt"/>
<line x1="238.30" y1="559.21" x2="247.70" y2="559.21" stroke="#007f00" stroke-width="2.2" stroke-linecap="butt"/>
<line x1="238.30" y1="572.64" x2="247.70" y2="572.64" stroke="#007f00" stroke-width="2.2" stroke-linecap="butt"/>
<polygon points="243.00,560.32 237.90,569.82 248.10,569.82" fill="#007f00"/>
<line x1="329.20" y1="573.59" x2="329.20" y2="585.10" stroke="#007f00" stroke-width="2.2" stroke-linecap="butt"/>
<line x1="324.50" y1="573.59" x2="333.90" y2="573.59" stroke="#007f00" stroke-width="2.2" stroke-linecap="butt"/>
<line x1="324.50" y1="585.10" x2="333.90" y2="585.10" stroke="#007f00" stroke-width="2.2" stroke-linecap="butt"/>
<polygon points="329.20,573.75 324.10,583.25 334.30,583.25" fill="#007f00"/>
<line x1="389.54" y1="584.15" x2="389.54" y2="595.66" stroke="#007f00" stroke-width="2.2" stroke-linecap="butt"/>
<line x1="384.84" y1="584.15" x2="394.24" y2="584.15" stroke="#007f00" stroke-width="2.2" stroke-linecap="butt"/>
<line x1="384.84" y1="595.66" x2="394.24" y2="595.66" stroke="#007f00" stroke-width="2.2" stroke-linecap="butt"/>
<polygon points="389.54,584.30 384.44,593.80 394.64,593.80" fill="#007f00"/>
<line x1="415.40" y1="606.40" x2="415.40" y2="620.21" stroke="#007f00" stroke-width="2.2" stroke-linecap="butt"/>
<line x1="410.70" y1="606.40" x2="420.10" y2="606.40" stroke="#007f00" stroke-width="2.2" stroke-linecap="butt"/>
<line x1="410.70" y1="620.21" x2="420.10" y2="620.21" stroke="#007f00" stroke-width="2.2" stroke-linecap="butt"/>
<polygon points="415.40,607.70 410.30,617.20 420.50,617.20" fill="#007f00"/>
<line x1="441.26" y1="620.79" x2="441.26" y2="633.83" stroke="#007f00" stroke-width="2.2" stroke-linecap="butt"/>
<line x1="436.56" y1="620.79" x2="445.96" y2="620.79" stroke="#007f00" stroke-width="2.2" stroke-linecap="butt"/>
<line x1="436.56" y1="633.83" x2="445.96" y2="633.83" stroke="#007f00" stroke-width="2.2" stroke-linecap="butt"/>
<polygon points="441.26,621.71 436.16,631.21 446.36,631.21" fill="#007f00"/>
<line x1="467.12" y1="647.45" x2="467.12" y2="662.80" stroke="#007f00" stroke-width="2.2" stroke-linecap="butt"/>
<line x1="462.42" y1="647.45" x2="471.82" y2="647.45" stroke="#007f00" stroke-width="2.2" stroke-linecap="butt"/>
<line x1="462.42" y1="662.80" x2="471.82" y2="662.80" stroke="#007f00" stroke-width="2.2" stroke-linecap="butt"/>
<polygon points="467.12,649.52 462.02,659.02 472.22,659.02" fill="#007f00"/>
<line x1="492.98" y1="705.19" x2="492.98" y2="722.84" stroke="#007f00" stroke-width="2.2" stroke-linecap="butt"/>
<line x1="488.28" y1="705.19" x2="497.68" y2="705.19" stroke="#007f00" stroke-width="2.2" stroke-linecap="butt"/>
<line x1="488.28" y1="722.84" x2="497.68" y2="722.84" stroke="#007f00" stroke-width="2.2" stroke-linecap="butt"/>
<polygon points="492.98,708.42 487.88,717.92 498.08,717.92" fill="#007f00"/>
<line x1="518.84" y1="722.84" x2="518.84" y2="742.79" stroke="#007f00" stroke-width="2.2" stroke-linecap="butt"/>
<line x1="514.14" y1="722.84" x2="523.54" y2="722.84" stroke="#007f00" stroke-width="2.2" stroke-linecap="butt"/>
<line x1="514.14" y1="742.79" x2="523.54" y2="742.79" stroke="#007f00" stroke-width="2.2" stroke-linecap="butt"/>
<polygon points="518.84,727.22 513.74,736.72 523.94,736.72" fill="#007f00"/>
<polyline points="243.0,567.3 245.9,567.3 248.7,567.3 251.6,567.3 254.5,567.4 257.4,567.4 260.2,567.4 263.1,567.4 266.0,567.5 268.9,567.5 271.7,567.6 274.6,567.6 277.5,567.6 280.4,567.7 283.2,567.7 286.1,567.8 289.0,567.9 291.8,567.9 294.7,568.0 297.6,568.1 300.5,568.2 303.3,568.3 306.2,568.4 309.1,568.5 312.0,568.6 314.8,568.7 317.7,568.9 320.6,569.0 323.5,569.2 326.3,569.4 329.2,569.6 332.1,569.8 334.9,570.0 337.8,570.3 340.7,570.5 343.6,570.8 346.4,571.1 349.3,571.5 352.2,571.8 355.1,572.2 357.9,572.7 360.8,573.1 363.7,573.6 366.6,574.2 369.4,574.7 372.3,575.4 375.2,576.0 378.0,576.8 380.9,577.6 383.8,578.4 386.7,579.3 389.5,580.3 392.4,581.4 395.3,582.5 398.2,583.7 401.0,585.0 403.9,586.4 406.8,587.9 409.7,589.5 412.5,591.2 415.4,593.0 418.3,594.9 421.1,597.0 424.0,599.2 426.9,601.5 429.8,604.0 432.6,606.6 435.5,609.3 438.4,612.2 441.3,615.2 444.1,618.4 447.0,621.8 449.9,625.2 452.8,628.9 455.6,632.6 458.5,636.5 461.4,640.6 464.2,644.7 467.1,649.0 470.0,653.4 472.9,657.9 475.7,662.4 478.6,667.1 481.5,671.8 484.4,676.5 487.2,681.2 490.1,686.0 493.0,690.7 495.9,695.5 498.7,700.2 501.6,704.8 504.5,709.4 507.3,713.9 510.2,718.3 513.1,722.6 516.0,726.8 518.8,730.9" fill="none" stroke="#000" stroke-width="2.3" stroke-linejoin="round"/>
<line x1="243.00" y1="556.71" x2="243.00" y2="567.46" stroke="#000" stroke-width="2.2" stroke-linecap="butt"/>
<line x1="238.30" y1="556.71" x2="247.70" y2="556.71" stroke="#000" stroke-width="2.2" stroke-linecap="butt"/>
<line x1="238.30" y1="567.46" x2="247.70" y2="567.46" stroke="#000" stroke-width="2.2" stroke-linecap="butt"/>
<circle cx="243.00" cy="562.09" r="4.70" fill="#000"/>
<line x1="329.20" y1="566.69" x2="329.20" y2="577.43" stroke="#000" stroke-width="2.2" stroke-linecap="butt"/>
<line x1="324.50" y1="566.69" x2="333.90" y2="566.69" stroke="#000" stroke-width="2.2" stroke-linecap="butt"/>
<line x1="324.50" y1="577.43" x2="333.90" y2="577.43" stroke="#000" stroke-width="2.2" stroke-linecap="butt"/>
<circle cx="329.20" cy="572.06" r="4.70" fill="#000"/>
<line x1="389.54" y1="577.43" x2="389.54" y2="590.09" stroke="#000" stroke-width="2.2" stroke-linecap="butt"/>
<line x1="384.84" y1="577.43" x2="394.24" y2="577.43" stroke="#000" stroke-width="2.2" stroke-linecap="butt"/>
<line x1="384.84" y1="590.09" x2="394.24" y2="590.09" stroke="#000" stroke-width="2.2" stroke-linecap="butt"/>
<circle cx="389.54" cy="583.76" r="4.70" fill="#000"/>
<line x1="415.40" y1="585.87" x2="415.40" y2="603.52" stroke="#000" stroke-width="2.2" stroke-linecap="butt"/>
<line x1="410.70" y1="585.87" x2="420.10" y2="585.87" stroke="#000" stroke-width="2.2" stroke-linecap="butt"/>
<line x1="410.70" y1="603.52" x2="420.10" y2="603.52" stroke="#000" stroke-width="2.2" stroke-linecap="butt"/>
<circle cx="415.40" cy="594.70" r="4.70" fill="#000"/>
<line x1="441.26" y1="606.01" x2="441.26" y2="622.51" stroke="#000" stroke-width="2.2" stroke-linecap="butt"/>
<line x1="436.56" y1="606.01" x2="445.96" y2="606.01" stroke="#000" stroke-width="2.2" stroke-linecap="butt"/>
<line x1="436.56" y1="622.51" x2="445.96" y2="622.51" stroke="#000" stroke-width="2.2" stroke-linecap="butt"/>
<circle cx="441.26" cy="614.26" r="4.70" fill="#000"/>
<line x1="467.12" y1="636.90" x2="467.12" y2="656.08" stroke="#000" stroke-width="2.2" stroke-linecap="butt"/>
<line x1="462.42" y1="636.90" x2="471.82" y2="636.90" stroke="#000" stroke-width="2.2" stroke-linecap="butt"/>
<line x1="462.42" y1="656.08" x2="471.82" y2="656.08" stroke="#000" stroke-width="2.2" stroke-linecap="butt"/>
<circle cx="467.12" cy="646.49" r="4.70" fill="#000"/>
<line x1="492.98" y1="687.16" x2="492.98" y2="702.51" stroke="#000" stroke-width="2.2" stroke-linecap="butt"/>
<line x1="488.28" y1="687.16" x2="497.68" y2="687.16" stroke="#000" stroke-width="2.2" stroke-linecap="butt"/>
<line x1="488.28" y1="702.51" x2="497.68" y2="702.51" stroke="#000" stroke-width="2.2" stroke-linecap="butt"/>
<circle cx="492.98" cy="694.83" r="4.70" fill="#000"/>
<line x1="518.84" y1="720.92" x2="518.84" y2="737.04" stroke="#000" stroke-width="2.2" stroke-linecap="butt"/>
<line x1="514.14" y1="720.92" x2="523.54" y2="720.92" stroke="#000" stroke-width="2.2" stroke-linecap="butt"/>
<line x1="514.14" y1="737.04" x2="523.54" y2="737.04" stroke="#000" stroke-width="2.2" stroke-linecap="butt"/>
<circle cx="518.84" cy="728.98" r="4.70" fill="#000"/>
<line x1="243.00" y1="520.55" x2="243.00" y2="753.25" stroke="#000" stroke-width="2.5" stroke-linecap="butt"/>
<line x1="232.00" y1="752.00" x2="589.05" y2="752.00" stroke="#000" stroke-width="2.5" stroke-linecap="butt"/>
<line x1="233.40" y1="521.80" x2="243.00" y2="521.80" stroke="#000" stroke-width="2.0" stroke-linecap="butt"/>
<text x="230.20" y="528.30" font-size="17" text-anchor="end" fill="#000">120</text>
<line x1="233.40" y1="598.53" x2="243.00" y2="598.53" stroke="#000" stroke-width="2.0" stroke-linecap="butt"/>
<text x="230.20" y="605.03" font-size="17" text-anchor="end" fill="#000">80</text>
<line x1="233.40" y1="675.27" x2="243.00" y2="675.27" stroke="#000" stroke-width="2.0" stroke-linecap="butt"/>
<text x="230.20" y="681.77" font-size="17" text-anchor="end" fill="#000">40</text>
<line x1="233.40" y1="752.00" x2="243.00" y2="752.00" stroke="#000" stroke-width="2.0" stroke-linecap="butt"/>
<text x="230.20" y="758.50" font-size="17" text-anchor="end" fill="#000">0</text>
<line x1="243.00" y1="752.00" x2="243.00" y2="761.80" stroke="#000" stroke-width="2.0" stroke-linecap="butt"/>
<text x="243.00" y="781.30" font-size="17" text-anchor="middle" fill="#000">0</text>
<line x1="329.20" y1="752.00" x2="329.20" y2="761.80" stroke="#000" stroke-width="2.0" stroke-linecap="butt"/>
<text x="329.20" y="781.30" font-size="17" text-anchor="middle" fill="#000">1</text>
<line x1="415.40" y1="752.00" x2="415.40" y2="761.80" stroke="#000" stroke-width="2.0" stroke-linecap="butt"/>
<text x="415.40" y="781.30" font-size="17" text-anchor="middle" fill="#000">2</text>
<line x1="501.60" y1="752.00" x2="501.60" y2="761.80" stroke="#000" stroke-width="2.0" stroke-linecap="butt"/>
<text x="501.60" y="781.30" font-size="17" text-anchor="middle" fill="#000">3</text>
<line x1="587.80" y1="752.00" x2="587.80" y2="761.80" stroke="#000" stroke-width="2.0" stroke-linecap="butt"/>
<text x="587.80" y="781.30" font-size="17" text-anchor="middle" fill="#000">4</text>
<text x="414.30" y="675.62" font-size="25" text-anchor="middle" fill="#000">*</text>
<text x="441.30" y="712.92" font-size="25" text-anchor="middle" fill="#000">*</text>
<text x="466.40" y="733.83" font-size="25" text-anchor="middle" fill="#000">*</text>
<text x="415.30" y="492.00" font-size="22" text-anchor="middle" fill="#000">T24</text>
<text x="415.50" y="813.10" font-size="22.1" text-anchor="middle" fill="#000">log(Dox) (ng/ml)</text>
<text x="190.50" y="637.00" font-size="22.1" text-anchor="middle" fill="#000" transform="rotate(-90 190.50 637.00)">Survival rate (%)</text>
<line x1="244.00" y1="842.40" x2="268.60" y2="842.40" stroke="#000" stroke-width="2.5" stroke-linecap="butt"/>
<circle cx="256.30" cy="842.40" r="5.08" fill="#000"/>
<text x="281.50" y="848.40" font-size="18.93" text-anchor="start" fill="#000">Control</text>
<line x1="244.00" y1="873.30" x2="268.60" y2="873.30" stroke="#ff0000" stroke-width="2.5" stroke-linecap="butt"/>
<rect x="251.17" y="868.17" width="10.26" height="10.26" fill="#ff0000"/>
<text x="281.50" y="879.30" font-size="18.93" text-anchor="start" fill="#000">si-circ+NC inhibitor</text>
<line x1="242.00" y1="904.50" x2="266.60" y2="904.50" stroke="#007f00" stroke-width="2.5" stroke-linecap="butt"/>
<polygon points="254.30,898.45 248.79,908.71 259.81,908.71" fill="#007f00"/>
<text x="279.50" y="910.50" font-size="18.93" text-anchor="start" fill="#000">si-circ+miR-145-5p inhibitor</text>
</g>
<g id="pd2">
<polyline points="727.2,573.9 730.1,573.9 732.9,574.0 735.8,574.0 738.7,574.1 741.6,574.2 744.4,574.2 747.3,574.3 750.2,574.4 753.1,574.5 755.9,574.6 758.8,574.7 761.7,574.8 764.6,574.9 767.4,575.0 770.3,575.2 773.2,575.3 776.0,575.5 778.9,575.7 781.8,575.8 784.7,576.1 787.5,576.3 790.4,576.5 793.3,576.8 796.2,577.1 799.0,577.4 801.9,577.8 804.8,578.1 807.7,578.5 810.5,579.0 813.4,579.4 816.3,579.9 819.1,580.5 822.0,581.1 824.9,581.7 827.8,582.4 830.6,583.2 833.5,584.0 836.4,584.8 839.3,585.7 842.1,586.7 845.0,587.8 847.9,589.0 850.8,590.2 853.6,591.5 856.5,592.9 859.4,594.4 862.2,596.1 865.1,597.8 868.0,599.6 870.9,601.5 873.7,603.6 876.6,605.7 879.5,608.0 882.4,610.5 885.2,613.0 888.1,615.7 891.0,618.4 893.9,621.3 896.7,624.4 899.6,627.5 902.5,630.8 905.3,634.1 908.2,637.6 911.1,641.1 914.0,644.8 916.8,648.5 919.7,652.2 922.6,656.0 925.5,659.9 928.3,663.8 931.2,667.6 934.1,671.5 937.0,675.3 939.8,679.2 942.7,682.9 945.6,686.7 948.4,690.3 951.3,693.9 954.2,697.4 957.1,700.8 959.9,704.1 962.8,707.2 965.7,710.3 968.6,713.2 971.4,716.1 974.3,718.8 977.2,721.3 980.1,723.8 982.9,726.1 985.8,728.3 988.7,730.4 991.5,732.4 994.4,734.2 997.3,736.0 1000.2,737.6 1003.0,739.2" fill="none" stroke="#ff0000" stroke-width="2.3" stroke-linejoin="round"/>
<line x1="727.20" y1="556.79" x2="727.20" y2="577.05" stroke="#ff0000" stroke-width="2.2" stroke-linecap="butt"/>
<line x1="722.50" y1="556.79" x2="731.90" y2="556.79" stroke="#ff0000" stroke-width="2.2" stroke-linecap="butt"/>
<line x1="722.50" y1="577.05" x2="731.90" y2="577.05" stroke="#ff0000" stroke-width="2.2" stroke-linecap="butt"/>
<rect x="722.45" y="562.17" width="9.50" height="9.50" fill="#ff0000"/>
<line x1="813.40" y1="571.51" x2="813.40" y2="591.01" stroke="#ff0000" stroke-width="2.2" stroke-linecap="butt"/>
<line x1="808.70" y1="571.51" x2="818.10" y2="571.51" stroke="#ff0000" stroke-width="2.2" stroke-linecap="butt"/>
<line x1="808.70" y1="591.01" x2="818.10" y2="591.01" stroke="#ff0000" stroke-width="2.2" stroke-linecap="butt"/>
<rect x="808.65" y="576.51" width="9.50" height="9.50" fill="#ff0000"/>
<line x1="873.74" y1="604.39" x2="873.74" y2="623.51" stroke="#ff0000" stroke-width="2.2" stroke-linecap="butt"/>
<line x1="869.04" y1="604.39" x2="878.44" y2="604.39" stroke="#ff0000" stroke-width="2.2" stroke-linecap="butt"/>
<line x1="869.04" y1="623.51" x2="878.44" y2="623.51" stroke="#ff0000" stroke-width="2.2" stroke-linecap="butt"/>
<rect x="868.99" y="609.20" width="9.50" height="9.50" fill="#ff0000"/>
<line x1="899.60" y1="622.74" x2="899.60" y2="639.56" stroke="#ff0000" stroke-width="2.2" stroke-linecap="butt"/>
<line x1="894.90" y1="622.74" x2="904.30" y2="622.74" stroke="#ff0000" stroke-width="2.2" stroke-linecap="butt"/>
<line x1="894.90" y1="639.56" x2="904.30" y2="639.56" stroke="#ff0000" stroke-width="2.2" stroke-linecap="butt"/>
<rect x="894.85" y="626.40" width="9.50" height="9.50" fill="#ff0000"/>
<line x1="925.46" y1="642.62" x2="925.46" y2="657.92" stroke="#ff0000" stroke-width="2.2" stroke-linecap="butt"/>
<line x1="920.76" y1="642.62" x2="930.16" y2="642.62" stroke="#ff0000" stroke-width="2.2" stroke-linecap="butt"/>
<line x1="920.76" y1="657.92" x2="930.16" y2="657.92" stroke="#ff0000" stroke-width="2.2" stroke-linecap="butt"/>
<rect x="920.71" y="645.52" width="9.50" height="9.50" fill="#ff0000"/>
<line x1="951.32" y1="683.53" x2="951.32" y2="699.21" stroke="#ff0000" stroke-width="2.2" stroke-linecap="butt"/>
<line x1="946.62" y1="683.53" x2="956.02" y2="683.53" stroke="#ff0000" stroke-width="2.2" stroke-linecap="butt"/>
<line x1="946.62" y1="699.21" x2="956.02" y2="699.21" stroke="#ff0000" stroke-width="2.2" stroke-linecap="butt"/>
<rect x="946.57" y="686.62" width="9.50" height="9.50" fill="#ff0000"/>
<line x1="977.18" y1="719.09" x2="977.18" y2="734.38" stroke="#ff0000" stroke-width="2.2" stroke-linecap="butt"/>
<line x1="972.48" y1="719.09" x2="981.88" y2="719.09" stroke="#ff0000" stroke-width="2.2" stroke-linecap="butt"/>
<line x1="972.48" y1="734.38" x2="981.88" y2="734.38" stroke="#ff0000" stroke-width="2.2" stroke-linecap="butt"/>
<rect x="972.43" y="721.99" width="9.50" height="9.50" fill="#ff0000"/>
<line x1="1003.04" y1="736.49" x2="1003.04" y2="744.90" stroke="#ff0000" stroke-width="2.2" stroke-linecap="butt"/>
<line x1="998.34" y1="736.49" x2="1007.74" y2="736.49" stroke="#ff0000" stroke-width="2.2" stroke-linecap="butt"/>
<line x1="998.34" y1="744.90" x2="1007.74" y2="744.90" stroke="#ff0000" stroke-width="2.2" stroke-linecap="butt"/>
<rect x="998.29" y="735.94" width="9.50" height="9.50" fill="#ff0000"/>
<polyline points="727.2,576.5 730.1,576.5 732.9,576.6 735.8,576.6 738.7,576.7 741.6,576.7 744.4,576.8 747.3,576.8 750.2,576.9 753.1,577.0 755.9,577.0 758.8,577.1 761.7,577.2 764.6,577.3 767.4,577.4 770.3,577.5 773.2,577.6 776.0,577.7 778.9,577.9 781.8,578.0 784.7,578.1 787.5,578.3 790.4,578.5 793.3,578.7 796.2,578.9 799.0,579.1 801.9,579.3 804.8,579.6 807.7,579.8 810.5,580.1 813.4,580.4 816.3,580.7 819.1,581.1 822.0,581.4 824.9,581.8 827.8,582.3 830.6,582.7 833.5,583.2 836.4,583.7 839.3,584.3 842.1,584.9 845.0,585.5 847.9,586.2 850.8,586.9 853.6,587.7 856.5,588.5 859.4,589.4 862.2,590.3 865.1,591.3 868.0,592.3 870.9,593.4 873.7,594.6 876.6,595.9 879.5,597.2 882.4,598.6 885.2,600.1 888.1,601.7 891.0,603.4 893.9,605.2 896.7,607.0 899.6,609.0 902.5,611.0 905.3,613.2 908.2,615.5 911.1,617.8 914.0,620.3 916.8,622.9 919.7,625.6 922.6,628.3 925.5,631.2 928.3,634.2 931.2,637.3 934.1,640.5 937.0,643.8 939.8,647.2 942.7,650.6 945.6,654.1 948.4,657.7 951.3,661.4 954.2,665.1 957.1,668.9 959.9,672.7 962.8,676.5 965.7,680.3 968.6,684.1 971.4,688.0 974.3,691.8 977.2,695.6 980.1,699.4 982.9,703.1 985.8,706.8 988.7,710.4 991.5,714.0 994.4,717.4 997.3,720.8 1000.2,724.1 1003.0,727.4" fill="none" stroke="#007f00" stroke-width="2.3" stroke-linejoin="round"/>
<line x1="727.20" y1="557.55" x2="727.20" y2="574.76" stroke="#007f00" stroke-width="2.2" stroke-linecap="butt"/>
<line x1="722.50" y1="557.55" x2="731.90" y2="557.55" stroke="#007f00" stroke-width="2.2" stroke-linecap="butt"/>
<line x1="722.50" y1="574.76" x2="731.90" y2="574.76" stroke="#007f00" stroke-width="2.2" stroke-linecap="butt"/>
<polygon points="727.20,560.56 722.10,570.06 732.30,570.06" fill="#007f00"/>
<line x1="813.40" y1="570.94" x2="813.40" y2="588.14" stroke="#007f00" stroke-width="2.2" stroke-linecap="butt"/>
<line x1="808.70" y1="570.94" x2="818.10" y2="570.94" stroke="#007f00" stroke-width="2.2" stroke-linecap="butt"/>
<line x1="808.70" y1="588.14" x2="818.10" y2="588.14" stroke="#007f00" stroke-width="2.2" stroke-linecap="butt"/>
<polygon points="813.40,573.94 808.30,583.44 818.50,583.44" fill="#007f00"/>
<line x1="873.74" y1="578.01" x2="873.74" y2="602.10" stroke="#007f00" stroke-width="2.2" stroke-linecap="butt"/>
<line x1="869.04" y1="578.01" x2="878.44" y2="578.01" stroke="#007f00" stroke-width="2.2" stroke-linecap="butt"/>
<line x1="869.04" y1="602.10" x2="878.44" y2="602.10" stroke="#007f00" stroke-width="2.2" stroke-linecap="butt"/>
<polygon points="873.74,584.45 868.64,593.95 878.84,593.95" fill="#007f00"/>
<line x1="899.60" y1="611.08" x2="899.60" y2="626.37" stroke="#007f00" stroke-width="2.2" stroke-linecap="butt"/>
<line x1="894.90" y1="611.08" x2="904.30" y2="611.08" stroke="#007f00" stroke-width="2.2" stroke-linecap="butt"/>
<line x1="894.90" y1="626.37" x2="904.30" y2="626.37" stroke="#007f00" stroke-width="2.2" stroke-linecap="butt"/>
<polygon points="899.60,613.13 894.50,622.63 904.70,622.63" fill="#007f00"/>
<line x1="925.46" y1="627.33" x2="925.46" y2="642.62" stroke="#007f00" stroke-width="2.2" stroke-linecap="butt"/>
<line x1="920.76" y1="627.33" x2="930.16" y2="627.33" stroke="#007f00" stroke-width="2.2" stroke-linecap="butt"/>
<line x1="920.76" y1="642.62" x2="930.16" y2="642.62" stroke="#007f00" stroke-width="2.2" stroke-linecap="butt"/>
<polygon points="925.46,629.38 920.36,638.88 930.56,638.88" fill="#007f00"/>
<line x1="951.32" y1="648.55" x2="951.32" y2="664.61" stroke="#007f00" stroke-width="2.2" stroke-linecap="butt"/>
<line x1="946.62" y1="648.55" x2="956.02" y2="648.55" stroke="#007f00" stroke-width="2.2" stroke-linecap="butt"/>
<line x1="946.62" y1="664.61" x2="956.02" y2="664.61" stroke="#007f00" stroke-width="2.2" stroke-linecap="butt"/>
<polygon points="951.32,650.98 946.22,660.48 956.42,660.48" fill="#007f00"/>
<line x1="977.18" y1="693.86" x2="977.18" y2="706.09" stroke="#007f00" stroke-width="2.2" stroke-linecap="butt"/>
<line x1="972.48" y1="693.86" x2="981.88" y2="693.86" stroke="#007f00" stroke-width="2.2" stroke-linecap="butt"/>
<line x1="972.48" y1="706.09" x2="981.88" y2="706.09" stroke="#007f00" stroke-width="2.2" stroke-linecap="butt"/>
<polygon points="977.18,694.37 972.08,703.87 982.28,703.87" fill="#007f00"/>
<line x1="1003.04" y1="722.91" x2="1003.04" y2="734.38" stroke="#007f00" stroke-width="2.2" stroke-linecap="butt"/>
<line x1="998.34" y1="722.91" x2="1007.74" y2="722.91" stroke="#007f00" stroke-width="2.2" stroke-linecap="butt"/>
<line x1="998.34" y1="734.38" x2="1007.74" y2="734.38" stroke="#007f00" stroke-width="2.2" stroke-linecap="butt"/>
<polygon points="1003.04,723.05 997.94,732.55 1008.14,732.55" fill="#007f00"/>
<polyline points="727.2,573.9 730.1,573.9 732.9,574.0 735.8,574.0 738.7,574.0 741.6,574.1 744.4,574.1 747.3,574.2 750.2,574.2 753.1,574.3 755.9,574.3 758.8,574.4 761.7,574.4 764.6,574.5 767.4,574.6 770.3,574.6 773.2,574.7 776.0,574.8 778.9,574.9 781.8,575.0 784.7,575.1 787.5,575.2 790.4,575.3 793.3,575.5 796.2,575.6 799.0,575.8 801.9,575.9 804.8,576.1 807.7,576.3 810.5,576.5 813.4,576.7 816.3,577.0 819.1,577.2 822.0,577.5 824.9,577.8 827.8,578.1 830.6,578.4 833.5,578.8 836.4,579.2 839.3,579.6 842.1,580.0 845.0,580.5 847.9,581.0 850.8,581.5 853.6,582.1 856.5,582.7 859.4,583.3 862.2,584.0 865.1,584.8 868.0,585.6 870.9,586.4 873.7,587.3 876.6,588.3 879.5,589.3 882.4,590.4 885.2,591.6 888.1,592.8 891.0,594.1 893.9,595.5 896.7,597.0 899.6,598.6 902.5,600.2 905.3,602.0 908.2,603.8 911.1,605.8 914.0,607.9 916.8,610.0 919.7,612.3 922.6,614.7 925.5,617.2 928.3,619.9 931.2,622.6 934.1,625.5 937.0,628.5 939.8,631.7 942.7,634.9 945.6,638.3 948.4,641.8 951.3,645.4 954.2,649.1 957.1,652.9 959.9,656.8 962.8,660.8 965.7,664.9 968.6,669.1 971.4,673.3 974.3,677.6 977.2,681.9 980.1,686.3 982.9,690.7 985.8,695.2 988.7,699.6 991.5,704.0 994.4,708.4 997.3,712.8 1000.2,717.2 1003.0,721.5" fill="none" stroke="#000" stroke-width="2.3" stroke-linejoin="round"/>
<line x1="727.20" y1="554.30" x2="727.20" y2="573.42" stroke="#000" stroke-width="2.2" stroke-linecap="butt"/>
<line x1="722.50" y1="554.30" x2="731.90" y2="554.30" stroke="#000" stroke-width="2.2" stroke-linecap="butt"/>
<line x1="722.50" y1="573.42" x2="731.90" y2="573.42" stroke="#000" stroke-width="2.2" stroke-linecap="butt"/>
<circle cx="727.20" cy="563.86" r="4.70" fill="#000"/>
<line x1="813.40" y1="569.60" x2="813.40" y2="589.10" stroke="#000" stroke-width="2.2" stroke-linecap="butt"/>
<line x1="808.70" y1="569.60" x2="818.10" y2="569.60" stroke="#000" stroke-width="2.2" stroke-linecap="butt"/>
<line x1="808.70" y1="589.10" x2="818.10" y2="589.10" stroke="#000" stroke-width="2.2" stroke-linecap="butt"/>
<circle cx="813.40" cy="579.35" r="4.70" fill="#000"/>
<line x1="873.74" y1="577.63" x2="873.74" y2="600.57" stroke="#000" stroke-width="2.2" stroke-linecap="butt"/>
<line x1="869.04" y1="577.63" x2="878.44" y2="577.63" stroke="#000" stroke-width="2.2" stroke-linecap="butt"/>
<line x1="869.04" y1="600.57" x2="878.44" y2="600.57" stroke="#000" stroke-width="2.2" stroke-linecap="butt"/>
<circle cx="873.74" cy="589.10" r="4.70" fill="#000"/>
<line x1="899.60" y1="595.02" x2="899.60" y2="613.37" stroke="#000" stroke-width="2.2" stroke-linecap="butt"/>
<line x1="894.90" y1="595.02" x2="904.30" y2="595.02" stroke="#000" stroke-width="2.2" stroke-linecap="butt"/>
<line x1="894.90" y1="613.37" x2="904.30" y2="613.37" stroke="#000" stroke-width="2.2" stroke-linecap="butt"/>
<circle cx="899.60" cy="604.20" r="4.70" fill="#000"/>
<line x1="925.46" y1="610.70" x2="925.46" y2="628.67" stroke="#000" stroke-width="2.2" stroke-linecap="butt"/>
<line x1="920.76" y1="610.70" x2="930.16" y2="610.70" stroke="#000" stroke-width="2.2" stroke-linecap="butt"/>
<line x1="920.76" y1="628.67" x2="930.16" y2="628.67" stroke="#000" stroke-width="2.2" stroke-linecap="butt"/>
<circle cx="925.46" cy="619.68" r="4.70" fill="#000"/>
<line x1="951.32" y1="628.48" x2="951.32" y2="648.36" stroke="#000" stroke-width="2.2" stroke-linecap="butt"/>
<line x1="946.62" y1="628.48" x2="956.02" y2="628.48" stroke="#000" stroke-width="2.2" stroke-linecap="butt"/>
<line x1="946.62" y1="648.36" x2="956.02" y2="648.36" stroke="#000" stroke-width="2.2" stroke-linecap="butt"/>
<circle cx="951.32" cy="638.42" r="4.70" fill="#000"/>
<line x1="977.18" y1="679.14" x2="977.18" y2="694.81" stroke="#000" stroke-width="2.2" stroke-linecap="butt"/>
<line x1="972.48" y1="679.14" x2="981.88" y2="679.14" stroke="#000" stroke-width="2.2" stroke-linecap="butt"/>
<line x1="972.48" y1="694.81" x2="981.88" y2="694.81" stroke="#000" stroke-width="2.2" stroke-linecap="butt"/>
<circle cx="977.18" cy="686.97" r="4.70" fill="#000"/>
<line x1="1003.04" y1="714.12" x2="1003.04" y2="730.94" stroke="#000" stroke-width="2.2" stroke-linecap="butt"/>
<line x1="998.34" y1="714.12" x2="1007.74" y2="714.12" stroke="#000" stroke-width="2.2" stroke-linecap="butt"/>
<line x1="998.34" y1="730.94" x2="1007.74" y2="730.94" stroke="#000" stroke-width="2.2" stroke-linecap="butt"/>
<circle cx="1003.04" cy="722.53" r="4.70" fill="#000"/>
<line x1="727.20" y1="522.85" x2="727.20" y2="754.75" stroke="#000" stroke-width="2.5" stroke-linecap="butt"/>
<line x1="716.60" y1="753.50" x2="1073.25" y2="753.50" stroke="#000" stroke-width="2.5" stroke-linecap="butt"/>
<line x1="717.60" y1="524.10" x2="727.20" y2="524.10" stroke="#000" stroke-width="2.0" stroke-linecap="butt"/>
<text x="714.40" y="530.60" font-size="17" text-anchor="end" fill="#000">120</text>
<line x1="717.60" y1="600.57" x2="727.20" y2="600.57" stroke="#000" stroke-width="2.0" stroke-linecap="butt"/>
<text x="714.40" y="607.07" font-size="17" text-anchor="end" fill="#000">80</text>
<line x1="717.60" y1="677.03" x2="727.20" y2="677.03" stroke="#000" stroke-width="2.0" stroke-linecap="butt"/>
<text x="714.40" y="683.53" font-size="17" text-anchor="end" fill="#000">40</text>
<line x1="717.60" y1="753.50" x2="727.20" y2="753.50" stroke="#000" stroke-width="2.0" stroke-linecap="butt"/>
<text x="714.40" y="760.00" font-size="17" text-anchor="end" fill="#000">0</text>
<line x1="727.20" y1="753.50" x2="727.20" y2="763.30" stroke="#000" stroke-width="2.0" stroke-linecap="butt"/>
<text x="727.20" y="783.30" font-size="17" text-anchor="middle" fill="#000">0</text>
<line x1="813.40" y1="753.50" x2="813.40" y2="763.30" stroke="#000" stroke-width="2.0" stroke-linecap="butt"/>
<text x="813.40" y="783.30" font-size="17" text-anchor="middle" fill="#000">1</text>
<line x1="899.60" y1="753.50" x2="899.60" y2="763.30" stroke="#000" stroke-width="2.0" stroke-linecap="butt"/>
<text x="899.60" y="783.30" font-size="17" text-anchor="middle" fill="#000">2</text>
<line x1="985.80" y1="753.50" x2="985.80" y2="763.30" stroke="#000" stroke-width="2.0" stroke-linecap="butt"/>
<text x="985.80" y="783.30" font-size="17" text-anchor="middle" fill="#000">3</text>
<line x1="1072.00" y1="753.50" x2="1072.00" y2="763.30" stroke="#000" stroke-width="2.0" stroke-linecap="butt"/>
<text x="1072.00" y="783.30" font-size="17" text-anchor="middle" fill="#000">4</text>
<text x="951.40" y="726.23" font-size="25" text-anchor="middle" fill="#000">*</text>
<text x="978.00" y="757.42" font-size="25" text-anchor="middle" fill="#000">*</text>
<text x="899.80" y="494.50" font-size="22" text-anchor="middle" fill="#000">J82</text>
<text x="900.00" y="814.60" font-size="22.1" text-anchor="middle" fill="#000">log(Dox) (ng/ml)</text>
<text x="674.00" y="638.50" font-size="22.1" text-anchor="middle" fill="#000" transform="rotate(-90 674.00 638.50)">Survival rate (%)</text>
<line x1="729.60" y1="844.80" x2="754.20" y2="844.80" stroke="#000" stroke-width="2.5" stroke-linecap="butt"/>
<circle cx="741.90" cy="844.80" r="5.08" fill="#000"/>
<text x="767.00" y="850.80" font-size="18.93" text-anchor="start" fill="#000">Control</text>
<line x1="729.60" y1="876.10" x2="754.20" y2="876.10" stroke="#ff0000" stroke-width="2.5" stroke-linecap="butt"/>
<rect x="736.77" y="870.97" width="10.26" height="10.26" fill="#ff0000"/>
<text x="767.00" y="882.10" font-size="18.93" text-anchor="start" fill="#000">si-circ+NC inhibitor</text>
<line x1="729.60" y1="907.30" x2="754.20" y2="907.30" stroke="#007f00" stroke-width="2.5" stroke-linecap="butt"/>
<polygon points="741.90,901.25 736.39,911.51 747.41,911.51" fill="#007f00"/>
<text x="767.00" y="913.30" font-size="18.93" text-anchor="start" fill="#000">si-circ+miR-145-5p inhibitor</text>
</g>
<g id="wT24">
<clipPath id="b1g0c"><rect x="238.8" y="993.9" width="261.09999999999997" height="78.00000000000011"/></clipPath>
<linearGradient id="b1g0" x1="0" y1="0" x2="1" y2="0"><stop offset="0" stop-color="#cccccc"/><stop offset="0.5" stop-color="#cdcdcd"/><stop offset="1" stop-color="#d1d1d1"/></linearGradient>
<g clip-path="url(#b1g0c)">
<rect x="238.8" y="993.9" width="261.09999999999997" height="78.00000000000011" fill="url(#b1g0)"/>
<linearGradient id="b1g0v" x1="0" y1="0" x2="0" y2="1"><stop offset="0" stop-color="#fff" stop-opacity="0"/><stop offset="1" stop-color="#fff" stop-opacity="0.14"/></linearGradient>
<rect x="238.8" y="993.9" width="261.09999999999997" height="78.00000000000011" fill="url(#b1g0v)"/>
<path d="M251.8,1033.6 L255.0,1025.9 L258.1,1023.5 L261.3,1022.1 L264.5,1021.2 L267.7,1020.7 L270.8,1020.4 L274.0,1020.2 L277.2,1020.1 L280.4,1020.1 L283.5,1020.1 L286.7,1020.0 L289.9,1020.1 L293.0,1020.1 L296.2,1020.1 L299.4,1020.2 L302.6,1020.4 L305.7,1020.7 L308.9,1021.2 L312.1,1022.1 L315.3,1023.5 L318.4,1025.9 L321.6,1033.6 L321.6,1033.6 L318.4,1041.0 L315.3,1043.2 L312.1,1044.3 L308.9,1045.0 L305.7,1045.4 L302.6,1045.5 L299.4,1045.6 L296.2,1045.6 L293.0,1045.6 L289.9,1045.6 L286.7,1045.5 L283.5,1045.6 L280.4,1045.6 L277.2,1045.6 L274.0,1045.6 L270.8,1045.5 L267.7,1045.4 L264.5,1045.0 L261.3,1044.3 L258.1,1043.2 L255.0,1041.0 L251.8,1033.6Z" fill="#000" opacity="0.30" filter="url(#blur2)"/>
<path d="M254.8,1032.6 L257.7,1026.7 L260.6,1024.8 L263.5,1023.7 L266.4,1023.0 L269.3,1022.6 L272.2,1022.4 L275.1,1022.2 L278.0,1022.1 L280.9,1022.1 L283.8,1022.1 L286.7,1022.0 L289.6,1022.1 L292.5,1022.1 L295.4,1022.1 L298.3,1022.2 L301.2,1022.4 L304.1,1022.6 L307.0,1023.0 L309.9,1023.7 L312.8,1024.8 L315.7,1026.7 L318.6,1032.6 L318.6,1032.6 L315.7,1038.2 L312.8,1039.9 L309.9,1040.7 L307.0,1041.2 L304.1,1041.5 L301.2,1041.6 L298.3,1041.6 L295.4,1041.6 L292.5,1041.6 L289.6,1041.6 L286.7,1041.5 L283.8,1041.6 L280.9,1041.6 L278.0,1041.6 L275.1,1041.6 L272.2,1041.6 L269.3,1041.5 L266.4,1041.2 L263.5,1040.7 L260.6,1039.9 L257.7,1038.2 L254.8,1032.6Z" fill="#000" opacity="1" filter="url(#blur1)"/>
<path d="M332.1,1030.5 L334.9,1024.8 L337.7,1023.1 L340.6,1022.1 L343.4,1021.6 L346.2,1021.3 L349.0,1021.2 L351.8,1021.2 L354.6,1021.2 L357.5,1021.3 L360.3,1021.3 L363.1,1021.5 L365.9,1021.6 L368.7,1021.7 L371.6,1021.9 L374.4,1022.0 L377.2,1022.3 L380.0,1022.6 L382.8,1023.1 L385.6,1023.7 L388.5,1024.7 L391.3,1026.2 L394.1,1030.5 L394.1,1030.5 L391.3,1034.6 L388.5,1035.8 L385.6,1036.5 L382.8,1037.0 L380.0,1037.3 L377.2,1037.4 L374.4,1037.6 L371.6,1037.7 L368.7,1037.7 L365.9,1037.8 L363.1,1038.0 L360.3,1038.1 L357.5,1038.2 L354.6,1038.3 L351.8,1038.5 L349.0,1038.6 L346.2,1038.6 L343.4,1038.4 L340.6,1038.1 L337.7,1037.4 L334.9,1035.9 L332.1,1030.5Z" fill="#000" opacity="0.28" filter="url(#blur2)"/>
<path d="M335.1,1029.5 L337.6,1025.8 L340.2,1024.7 L342.7,1024.0 L345.3,1023.7 L347.8,1023.4 L350.4,1023.3 L352.9,1023.3 L355.5,1023.3 L358.0,1023.3 L360.6,1023.4 L363.1,1023.5 L365.6,1023.5 L368.2,1023.6 L370.7,1023.7 L373.3,1023.9 L375.8,1024.0 L378.4,1024.3 L380.9,1024.6 L383.5,1025.0 L386.0,1025.7 L388.6,1026.7 L391.1,1029.5 L391.1,1029.5 L388.6,1032.0 L386.0,1032.8 L383.5,1033.2 L380.9,1033.5 L378.4,1033.6 L375.8,1033.7 L373.3,1033.7 L370.7,1033.8 L368.2,1033.8 L365.6,1033.9 L363.1,1034.0 L360.6,1034.0 L358.0,1034.1 L355.5,1034.2 L352.9,1034.3 L350.4,1034.4 L347.8,1034.4 L345.3,1034.4 L342.7,1034.2 L340.2,1033.8 L337.6,1032.9 L335.1,1029.5Z" fill="#000" opacity="0.93" filter="url(#blur1)"/>
<path d="M406.5,1029.7 L409.8,1023.2 L413.0,1021.2 L416.3,1020.2 L419.6,1019.6 L422.8,1019.2 L426.1,1019.1 L429.3,1019.0 L432.6,1019.0 L435.9,1019.0 L439.1,1019.0 L442.4,1019.0 L445.7,1019.0 L448.9,1019.0 L452.2,1019.0 L455.5,1019.0 L458.7,1019.1 L462.0,1019.2 L465.2,1019.6 L468.5,1020.2 L471.8,1021.2 L475.0,1023.2 L478.3,1029.7 L478.3,1029.7 L475.0,1036.4 L471.8,1038.6 L468.5,1039.8 L465.2,1040.5 L462.0,1041.0 L458.7,1041.3 L455.5,1041.4 L452.2,1041.5 L448.9,1041.5 L445.7,1041.5 L442.4,1041.5 L439.1,1041.5 L435.9,1041.5 L432.6,1041.5 L429.3,1041.4 L426.1,1041.3 L422.8,1041.0 L419.6,1040.5 L416.3,1039.8 L413.0,1038.6 L409.8,1036.4 L406.5,1029.7Z" fill="#000" opacity="0.30" filter="url(#blur2)"/>
<path d="M409.5,1028.7 L412.5,1023.9 L415.5,1022.5 L418.5,1021.8 L421.5,1021.4 L424.5,1021.1 L427.4,1021.0 L430.4,1021.0 L433.4,1021.0 L436.4,1021.0 L439.4,1021.0 L442.4,1021.0 L445.4,1021.0 L448.4,1021.0 L451.4,1021.0 L454.4,1021.0 L457.4,1021.0 L460.3,1021.1 L463.3,1021.4 L466.3,1021.8 L469.3,1022.5 L472.3,1023.9 L475.3,1028.7 L475.3,1028.7 L472.3,1033.7 L469.3,1035.3 L466.3,1036.2 L463.3,1036.7 L460.3,1037.1 L457.4,1037.3 L454.4,1037.4 L451.4,1037.5 L448.4,1037.5 L445.4,1037.5 L442.4,1037.5 L439.4,1037.5 L436.4,1037.5 L433.4,1037.5 L430.4,1037.4 L427.4,1037.3 L424.5,1037.1 L421.5,1036.7 L418.5,1036.2 L415.5,1035.3 L412.5,1033.7 L409.5,1028.7Z" fill="#000" opacity="1" filter="url(#blur1)"/>
</g>
<clipPath id="b1g1c"><rect x="238.8" y="1079" width="261.09999999999997" height="77"/></clipPath>
<linearGradient id="b1g1" x1="0" y1="0" x2="1" y2="0"><stop offset="0" stop-color="#d8d8d8"/><stop offset="0.5" stop-color="#dbdbdb"/><stop offset="1" stop-color="#dbdbdb"/></linearGradient>
<g clip-path="url(#b1g1c)">
<rect x="238.8" y="1079" width="261.09999999999997" height="77" fill="url(#b1g1)"/>
<path d="M254.7,1115.4 L257.6,1110.9 L260.4,1109.6 L263.3,1109.0 L266.2,1108.7 L269.0,1108.5 L271.9,1108.5 L274.7,1108.5 L277.6,1108.5 L280.5,1108.6 L283.3,1108.6 L286.2,1108.6 L289.1,1108.6 L291.9,1108.6 L294.8,1108.5 L297.7,1108.5 L300.5,1108.5 L303.4,1108.5 L306.2,1108.7 L309.1,1109.0 L312.0,1109.6 L314.8,1110.9 L317.7,1115.4 L317.7,1115.4 L314.8,1120.3 L312.0,1122.0 L309.1,1122.9 L306.2,1123.6 L303.4,1124.0 L300.5,1124.2 L297.7,1124.4 L294.8,1124.5 L291.9,1124.6 L289.1,1124.6 L286.2,1124.6 L283.3,1124.6 L280.5,1124.6 L277.6,1124.5 L274.7,1124.4 L271.9,1124.2 L269.0,1124.0 L266.2,1123.6 L263.3,1122.9 L260.4,1122.0 L257.6,1120.3 L254.7,1115.4Z" fill="#000" opacity="0.28" filter="url(#blur2)"/>
<path d="M257.7,1114.4 L260.3,1111.7 L262.9,1110.9 L265.5,1110.6 L268.1,1110.5 L270.7,1110.4 L273.2,1110.4 L275.8,1110.5 L278.4,1110.5 L281.0,1110.6 L283.6,1110.6 L286.2,1110.6 L288.8,1110.6 L291.4,1110.6 L294.0,1110.5 L296.6,1110.5 L299.2,1110.4 L301.7,1110.4 L304.3,1110.5 L306.9,1110.6 L309.5,1110.9 L312.1,1111.7 L314.7,1114.4 L314.7,1114.4 L312.1,1117.6 L309.5,1118.7 L306.9,1119.3 L304.3,1119.8 L301.7,1120.1 L299.2,1120.3 L296.6,1120.4 L294.0,1120.5 L291.4,1120.6 L288.8,1120.6 L286.2,1120.6 L283.6,1120.6 L281.0,1120.6 L278.4,1120.5 L275.8,1120.4 L273.2,1120.3 L270.7,1120.1 L268.1,1119.8 L265.5,1119.3 L262.9,1118.7 L260.3,1117.6 L257.7,1114.4Z" fill="#000" opacity="0.95" filter="url(#blur1)"/>
<path d="M330.9,1116.0 L333.9,1108.6 L336.9,1106.4 L339.9,1105.3 L342.9,1104.6 L346.0,1104.2 L349.0,1104.1 L352.0,1104.0 L355.0,1104.0 L358.1,1104.0 L361.1,1104.0 L364.1,1104.0 L367.1,1104.0 L370.1,1104.0 L373.2,1104.0 L376.2,1104.0 L379.2,1104.1 L382.2,1104.2 L385.3,1104.6 L388.3,1105.3 L391.3,1106.4 L394.3,1108.6 L397.4,1116.0 L397.4,1116.0 L394.3,1123.7 L391.3,1126.1 L388.3,1127.5 L385.3,1128.4 L382.2,1128.9 L379.2,1129.2 L376.2,1129.4 L373.2,1129.5 L370.1,1129.5 L367.1,1129.5 L364.1,1129.5 L361.1,1129.5 L358.1,1129.5 L355.0,1129.5 L352.0,1129.4 L349.0,1129.2 L346.0,1128.9 L342.9,1128.4 L339.9,1127.5 L336.9,1126.1 L333.9,1123.7 L330.9,1116.0Z" fill="#000" opacity="0.30" filter="url(#blur2)"/>
<path d="M333.9,1115.0 L336.6,1109.4 L339.4,1107.7 L342.1,1106.9 L344.9,1106.4 L347.6,1106.1 L350.4,1106.0 L353.1,1106.0 L355.9,1106.0 L358.6,1106.0 L361.4,1106.0 L364.1,1106.0 L366.9,1106.0 L369.6,1106.0 L372.4,1106.0 L375.1,1106.0 L377.9,1106.0 L380.6,1106.1 L383.4,1106.4 L386.1,1106.9 L388.9,1107.7 L391.6,1109.4 L394.4,1115.0 L394.4,1115.0 L391.6,1120.9 L388.9,1122.8 L386.1,1123.9 L383.4,1124.6 L380.6,1125.0 L377.9,1125.2 L375.1,1125.4 L372.4,1125.5 L369.6,1125.5 L366.9,1125.5 L364.1,1125.5 L361.4,1125.5 L358.6,1125.5 L355.9,1125.5 L353.1,1125.4 L350.4,1125.2 L347.6,1125.0 L344.9,1124.6 L342.1,1123.9 L339.4,1122.8 L336.6,1120.9 L333.9,1115.0Z" fill="#000" opacity="1" filter="url(#blur1)"/>
<path d="M410.4,1114.8 L413.3,1109.8 L416.2,1108.4 L419.1,1107.6 L422.0,1107.2 L424.9,1107.0 L427.9,1107.0 L430.8,1107.0 L433.7,1107.0 L436.6,1107.0 L439.5,1107.0 L442.4,1107.0 L445.3,1107.0 L448.2,1107.0 L451.1,1107.0 L454.0,1107.0 L456.9,1107.0 L459.9,1107.0 L462.8,1107.2 L465.7,1107.6 L468.6,1108.4 L471.5,1109.8 L474.4,1114.8 L474.4,1114.8 L471.5,1120.1 L468.6,1121.9 L465.7,1122.9 L462.8,1123.6 L459.9,1124.0 L456.9,1124.2 L454.0,1124.4 L451.1,1124.5 L448.2,1124.5 L445.3,1124.5 L442.4,1124.5 L439.5,1124.5 L436.6,1124.5 L433.7,1124.5 L430.8,1124.4 L427.9,1124.2 L424.9,1124.0 L422.0,1123.6 L419.1,1122.9 L416.2,1121.9 L413.3,1120.1 L410.4,1114.8Z" fill="#000" opacity="0.29" filter="url(#blur2)"/>
<path d="M413.4,1113.8 L416.0,1110.6 L418.7,1109.7 L421.3,1109.3 L423.9,1109.0 L426.6,1108.9 L429.2,1108.9 L431.9,1108.9 L434.5,1109.0 L437.1,1109.0 L439.8,1109.0 L442.4,1109.0 L445.0,1109.0 L447.7,1109.0 L450.3,1109.0 L452.9,1108.9 L455.6,1108.9 L458.2,1108.9 L460.9,1109.0 L463.5,1109.3 L466.1,1109.7 L468.8,1110.6 L471.4,1113.8 L471.4,1113.8 L468.8,1117.4 L466.1,1118.6 L463.5,1119.3 L460.9,1119.8 L458.2,1120.1 L455.6,1120.3 L452.9,1120.4 L450.3,1120.5 L447.7,1120.5 L445.0,1120.5 L442.4,1120.5 L439.8,1120.5 L437.1,1120.5 L434.5,1120.5 L431.9,1120.4 L429.2,1120.3 L426.6,1120.1 L423.9,1119.8 L421.3,1119.3 L418.7,1118.6 L416.0,1117.4 L413.4,1113.8Z" fill="#000" opacity="0.97" filter="url(#blur1)"/>
</g>
<clipPath id="b1g2c"><rect x="238.8" y="1163.4" width="261.09999999999997" height="76.79999999999995"/></clipPath>
<linearGradient id="b1g2" x1="0" y1="0" x2="1" y2="0"><stop offset="0" stop-color="#c6c6c6"/><stop offset="0.5" stop-color="#c9c9c9"/><stop offset="1" stop-color="#cdcdcd"/></linearGradient>
<g clip-path="url(#b1g2c)">
<rect x="238.8" y="1163.4" width="261.09999999999997" height="76.79999999999995" fill="url(#b1g2)"/>
<linearGradient id="b1g2v" x1="0" y1="0" x2="0" y2="1"><stop offset="0" stop-color="#fff" stop-opacity="0"/><stop offset="1" stop-color="#fff" stop-opacity="0.04"/></linearGradient>
<rect x="238.8" y="1163.4" width="261.09999999999997" height="76.79999999999995" fill="url(#b1g2v)"/>
<path d="M254.4,1198.5 L257.5,1191.8 L260.5,1189.9 L263.5,1189.0 L266.5,1188.5 L269.6,1188.3 L272.6,1188.3 L275.6,1188.3 L278.6,1188.4 L281.7,1188.4 L284.7,1188.5 L287.7,1188.5 L290.7,1188.5 L293.7,1188.4 L296.8,1188.4 L299.8,1188.3 L302.8,1188.3 L305.8,1188.3 L308.9,1188.5 L311.9,1189.0 L314.9,1189.9 L317.9,1191.8 L320.9,1198.5 L320.9,1198.5 L317.9,1205.9 L314.9,1208.4 L311.9,1209.9 L308.9,1210.9 L305.8,1211.5 L302.8,1211.9 L299.8,1212.2 L296.8,1212.3 L293.7,1212.4 L290.7,1212.5 L287.7,1212.5 L284.7,1212.5 L281.7,1212.4 L278.6,1212.3 L275.6,1212.2 L272.6,1211.9 L269.6,1211.5 L266.5,1210.9 L263.5,1209.9 L260.5,1208.4 L257.5,1205.9 L254.4,1198.5Z" fill="#000" opacity="0.30" filter="url(#blur2)"/>
<path d="M257.4,1197.5 L260.2,1192.5 L262.9,1191.2 L265.7,1190.6 L268.4,1190.3 L271.2,1190.2 L273.9,1190.2 L276.7,1190.3 L279.4,1190.4 L282.2,1190.4 L284.9,1190.5 L287.7,1190.5 L290.4,1190.5 L293.2,1190.4 L295.9,1190.4 L298.7,1190.3 L301.4,1190.2 L304.2,1190.2 L306.9,1190.3 L309.7,1190.6 L312.4,1191.2 L315.2,1192.5 L317.9,1197.5 L317.9,1197.5 L315.2,1203.2 L312.4,1205.1 L309.7,1206.3 L306.9,1207.1 L304.2,1207.6 L301.4,1208.0 L298.7,1208.2 L295.9,1208.3 L293.2,1208.4 L290.4,1208.5 L287.7,1208.5 L284.9,1208.5 L282.2,1208.4 L279.4,1208.3 L276.7,1208.2 L273.9,1208.0 L271.2,1207.6 L268.4,1207.1 L265.7,1206.3 L262.9,1205.1 L260.2,1203.2 L257.4,1197.5Z" fill="#000" opacity="1" filter="url(#blur1)"/>
<path d="M332.8,1196.9 L335.7,1190.4 L338.7,1188.6 L341.7,1187.6 L344.7,1187.1 L347.6,1186.9 L350.6,1186.8 L353.6,1186.8 L356.6,1186.9 L359.5,1186.9 L362.5,1187.0 L365.5,1187.0 L368.5,1187.0 L371.5,1186.9 L374.4,1186.9 L377.4,1186.8 L380.4,1186.8 L383.4,1186.9 L386.3,1187.1 L389.3,1187.6 L392.3,1188.6 L395.3,1190.4 L398.2,1196.9 L398.2,1196.9 L395.3,1204.0 L392.3,1206.3 L389.3,1207.7 L386.3,1208.6 L383.4,1209.1 L380.4,1209.5 L377.4,1209.7 L374.4,1209.9 L371.5,1209.9 L368.5,1210.0 L365.5,1210.0 L362.5,1210.0 L359.5,1209.9 L356.6,1209.9 L353.6,1209.7 L350.6,1209.5 L347.6,1209.1 L344.7,1208.6 L341.7,1207.7 L338.7,1206.3 L335.7,1204.0 L332.8,1196.9Z" fill="#000" opacity="0.30" filter="url(#blur2)"/>
<path d="M335.8,1195.9 L338.5,1191.2 L341.2,1189.9 L343.9,1189.2 L346.6,1188.9 L349.3,1188.8 L352.0,1188.8 L354.7,1188.8 L357.4,1188.9 L360.1,1188.9 L362.8,1189.0 L365.5,1189.0 L368.2,1189.0 L370.9,1188.9 L373.6,1188.9 L376.3,1188.8 L379.0,1188.8 L381.7,1188.8 L384.4,1188.9 L387.1,1189.2 L389.8,1189.9 L392.5,1191.2 L395.2,1195.9 L395.2,1195.9 L392.5,1201.2 L389.8,1203.0 L387.1,1204.1 L384.4,1204.8 L381.7,1205.2 L379.0,1205.5 L376.3,1205.7 L373.6,1205.9 L370.9,1205.9 L368.2,1206.0 L365.5,1206.0 L362.8,1206.0 L360.1,1205.9 L357.4,1205.9 L354.7,1205.7 L352.0,1205.5 L349.3,1205.2 L346.6,1204.8 L343.9,1204.1 L341.2,1203.0 L338.5,1201.2 L335.8,1195.9Z" fill="#000" opacity="1" filter="url(#blur1)"/>
<path d="M410.1,1196.7 L413.2,1189.8 L416.2,1187.9 L419.2,1186.8 L422.2,1186.2 L425.3,1185.9 L428.3,1185.8 L431.3,1185.7 L434.3,1185.7 L437.4,1185.6 L440.4,1185.6 L443.4,1185.5 L446.4,1185.4 L449.4,1185.3 L452.5,1185.1 L455.5,1185.0 L458.5,1184.8 L461.5,1184.8 L464.6,1184.9 L467.6,1185.3 L470.6,1186.2 L473.6,1188.0 L476.6,1194.7 L476.6,1194.7 L473.6,1202.2 L470.6,1204.7 L467.6,1206.3 L464.6,1207.3 L461.5,1208.0 L458.5,1208.5 L455.5,1208.8 L452.5,1209.1 L449.4,1209.3 L446.4,1209.4 L443.4,1209.5 L440.4,1209.6 L437.4,1209.6 L434.3,1209.6 L431.3,1209.6 L428.3,1209.4 L425.3,1209.1 L422.2,1208.6 L419.2,1207.7 L416.2,1206.4 L413.2,1204.0 L410.1,1196.7Z" fill="#000" opacity="0.30" filter="url(#blur2)"/>
<path d="M413.1,1195.7 L415.9,1190.6 L418.6,1189.2 L421.4,1188.4 L424.1,1188.0 L426.9,1187.8 L429.6,1187.7 L432.4,1187.7 L435.1,1187.7 L437.9,1187.6 L440.6,1187.6 L443.4,1187.5 L446.1,1187.4 L448.9,1187.3 L451.6,1187.1 L454.4,1186.9 L457.1,1186.8 L459.9,1186.7 L462.6,1186.7 L465.4,1187.0 L468.1,1187.5 L470.9,1188.8 L473.6,1193.7 L473.6,1193.7 L470.9,1199.4 L468.1,1201.4 L465.4,1202.7 L462.6,1203.5 L459.9,1204.1 L457.1,1204.5 L454.4,1204.9 L451.6,1205.1 L448.9,1205.3 L446.1,1205.4 L443.4,1205.5 L440.6,1205.6 L437.9,1205.6 L435.1,1205.6 L432.4,1205.6 L429.6,1205.5 L426.9,1205.2 L424.1,1204.8 L421.4,1204.1 L418.6,1203.1 L415.9,1201.2 L413.1,1195.7Z" fill="#000" opacity="1" filter="url(#blur1)"/>
</g>
<text x="227.00" y="1042.60" font-size="22.3" text-anchor="end" fill="#000">ki-67</text>
<text x="225.30" y="1134.70" font-size="23.2" text-anchor="end" fill="#000">c-caspase-3</text>
<text x="227.60" y="1207.70" font-size="23.1" text-anchor="end" fill="#000">GAPDH</text>
<line x1="515.00" y1="1019.10" x2="515.00" y2="1213.50" stroke="#000" stroke-width="5.6" stroke-linecap="butt"/>
<text x="544.90" y="1117.70" font-size="23.3" text-anchor="middle" fill="#000" transform="rotate(-90 544.90 1117.70)">T24</text>
<text x="237.60" y="1262.50" font-size="23.5" text-anchor="end" fill="#000">Control</text>
<text x="233.80" y="1302.70" font-size="23.5" text-anchor="end" fill="#000">NC inhibitor</text>
<text x="225.50" y="1338.80" font-size="23.2" text-anchor="end" fill="#000">miR-145-5p inhibitor</text>
<text x="287.70" y="1271.63" font-size="31" text-anchor="middle" fill="#000" stroke="#000" stroke-width="0.6">+</text>
<text x="365.00" y="1273.34" font-size="34" text-anchor="middle" fill="#000" stroke="#000" stroke-width="0.5">-</text>
<text x="447.50" y="1273.34" font-size="34" text-anchor="middle" fill="#000" stroke="#000" stroke-width="0.5">-</text>
<text x="284.50" y="1311.34" font-size="34" text-anchor="middle" fill="#000" stroke="#000" stroke-width="0.5">-</text>
<text x="367.50" y="1309.13" font-size="31" text-anchor="middle" fill="#000" stroke="#000" stroke-width="0.6">+</text>
<text x="447.50" y="1311.34" font-size="34" text-anchor="middle" fill="#000" stroke="#000" stroke-width="0.5">-</text>
<text x="284.50" y="1348.84" font-size="34" text-anchor="middle" fill="#000" stroke="#000" stroke-width="0.5">-</text>
<text x="365.00" y="1348.84" font-size="34" text-anchor="middle" fill="#000" stroke="#000" stroke-width="0.5">-</text>
<text x="450.00" y="1347.13" font-size="31" text-anchor="middle" fill="#000" stroke="#000" stroke-width="0.6">+</text>
</g>
<g id="wJ82">
<clipPath id="b2g0c"><rect x="762.8" y="993.9" width="261.20000000000005" height="77.00000000000011"/></clipPath>
<linearGradient id="b2g0" x1="0" y1="0" x2="1" y2="0"><stop offset="0" stop-color="#dfdfdf"/><stop offset="0.5" stop-color="#dedede"/><stop offset="1" stop-color="#dcdcdc"/></linearGradient>
<g clip-path="url(#b2g0c)">
<rect x="762.8" y="993.9" width="261.20000000000005" height="77.00000000000011" fill="url(#b2g0)"/>
<path d="M780.6,1032.7 L783.6,1026.6 L786.5,1024.8 L789.4,1023.8 L792.4,1023.2 L795.3,1022.9 L798.2,1022.7 L801.2,1022.7 L804.1,1022.7 L807.0,1022.7 L810.0,1022.7 L812.9,1022.7 L815.8,1022.7 L818.8,1022.7 L821.7,1022.7 L824.6,1022.7 L827.6,1022.7 L830.5,1022.9 L833.4,1023.2 L836.4,1023.8 L839.3,1024.8 L842.2,1026.6 L845.1,1032.7 L845.1,1032.7 L842.2,1039.0 L839.3,1041.0 L836.4,1042.1 L833.4,1042.8 L830.5,1043.2 L827.6,1043.4 L824.6,1043.6 L821.7,1043.6 L818.8,1043.7 L815.8,1043.7 L812.9,1043.7 L810.0,1043.7 L807.0,1043.7 L804.1,1043.6 L801.2,1043.6 L798.2,1043.4 L795.3,1043.2 L792.4,1042.8 L789.4,1042.1 L786.5,1041.0 L783.6,1039.0 L780.6,1032.7Z" fill="#000" opacity="0.30" filter="url(#blur2)"/>
<path d="M783.6,1031.7 L786.3,1027.4 L789.0,1026.1 L791.6,1025.4 L794.3,1025.0 L796.9,1024.8 L799.6,1024.7 L802.3,1024.7 L804.9,1024.7 L807.6,1024.7 L810.2,1024.7 L812.9,1024.7 L815.6,1024.7 L818.2,1024.7 L820.9,1024.7 L823.5,1024.7 L826.2,1024.7 L828.9,1024.8 L831.5,1025.0 L834.2,1025.4 L836.8,1026.1 L839.5,1027.4 L842.1,1031.7 L842.1,1031.7 L839.5,1036.2 L836.8,1037.6 L834.2,1038.5 L831.5,1039.0 L828.9,1039.3 L826.2,1039.5 L823.5,1039.6 L820.9,1039.7 L818.2,1039.7 L815.6,1039.7 L812.9,1039.7 L810.2,1039.7 L807.6,1039.7 L804.9,1039.7 L802.3,1039.6 L799.6,1039.5 L796.9,1039.3 L794.3,1039.0 L791.6,1038.5 L789.0,1037.6 L786.3,1036.2 L783.6,1031.7Z" fill="#000" opacity="1" filter="url(#blur1)"/>
<path d="M858.4,1033.4 L861.3,1028.6 L864.1,1027.0 L867.0,1026.0 L869.9,1025.4 L872.7,1025.0 L875.6,1024.7 L878.4,1024.5 L881.3,1024.3 L884.2,1024.2 L887.0,1024.1 L889.9,1024.0 L892.8,1024.0 L895.6,1023.9 L898.5,1023.9 L901.4,1023.9 L904.2,1023.9 L907.1,1024.1 L909.9,1024.4 L912.8,1024.9 L915.7,1025.9 L918.5,1027.7 L921.4,1033.4 L921.4,1033.4 L918.5,1038.9 L915.7,1040.5 L912.8,1041.3 L909.9,1041.7 L907.1,1041.9 L904.2,1041.9 L901.4,1041.9 L898.5,1041.8 L895.6,1041.7 L892.8,1041.6 L889.9,1041.5 L887.0,1041.5 L884.2,1041.4 L881.3,1041.3 L878.4,1041.3 L875.6,1041.2 L872.7,1041.0 L869.9,1040.7 L867.0,1040.2 L864.1,1039.4 L861.3,1038.0 L858.4,1033.4Z" fill="#000" opacity="0.25" filter="url(#blur2)"/>
<path d="M861.4,1032.4 L864.0,1029.2 L866.6,1028.1 L869.2,1027.5 L871.8,1027.0 L874.4,1026.7 L876.9,1026.5 L879.5,1026.4 L882.1,1026.3 L884.7,1026.2 L887.3,1026.1 L889.9,1026.0 L892.5,1026.0 L895.1,1026.0 L897.7,1025.9 L900.3,1026.0 L902.9,1026.0 L905.4,1026.1 L908.0,1026.3 L910.6,1026.7 L913.2,1027.4 L915.8,1028.6 L918.4,1032.4 L918.4,1032.4 L915.8,1036.0 L913.2,1037.0 L910.6,1037.5 L908.0,1037.7 L905.4,1037.8 L902.9,1037.8 L900.3,1037.8 L897.7,1037.7 L895.1,1037.7 L892.5,1037.6 L889.9,1037.5 L887.3,1037.5 L884.7,1037.5 L882.1,1037.4 L879.5,1037.4 L876.9,1037.3 L874.4,1037.2 L871.8,1037.1 L869.2,1036.8 L866.6,1036.3 L864.0,1035.4 L861.4,1032.4Z" fill="#000" opacity="0.82" filter="url(#blur1)"/>
<path d="M931.7,1031.0 L934.9,1024.6 L938.1,1022.6 L941.2,1021.4 L944.4,1020.6 L947.6,1020.1 L950.8,1019.8 L954.0,1019.6 L957.2,1019.5 L960.3,1019.4 L963.5,1019.3 L966.7,1019.2 L969.9,1019.1 L973.1,1019.1 L976.2,1019.0 L979.4,1019.0 L982.6,1019.1 L985.8,1019.3 L989.0,1019.6 L992.2,1020.2 L995.3,1021.3 L998.5,1023.2 L1001.7,1029.4 L1001.7,1029.4 L998.5,1035.6 L995.3,1037.5 L992.2,1038.5 L989.0,1039.2 L985.8,1039.6 L982.6,1039.8 L979.4,1039.9 L976.2,1040.0 L973.1,1040.1 L969.9,1040.1 L966.7,1040.2 L963.5,1040.3 L960.3,1040.4 L957.2,1040.4 L954.0,1040.5 L950.8,1040.5 L947.6,1040.4 L944.4,1040.2 L941.2,1039.7 L938.1,1038.8 L934.9,1037.0 L931.7,1031.0Z" fill="#000" opacity="0.30" filter="url(#blur2)"/>
<path d="M934.7,1030.0 L937.6,1025.4 L940.5,1023.9 L943.4,1023.0 L946.3,1022.4 L949.2,1022.0 L952.2,1021.8 L955.1,1021.6 L958.0,1021.5 L960.9,1021.4 L963.8,1021.3 L966.7,1021.2 L969.6,1021.1 L972.5,1021.1 L975.4,1021.0 L978.3,1021.0 L981.2,1021.0 L984.2,1021.2 L987.1,1021.4 L990.0,1021.8 L992.9,1022.6 L995.8,1024.0 L998.7,1028.4 L998.7,1028.4 L995.8,1032.8 L992.9,1034.2 L990.0,1034.9 L987.1,1035.4 L984.2,1035.7 L981.2,1035.8 L978.3,1035.9 L975.4,1036.0 L972.5,1036.1 L969.6,1036.1 L966.7,1036.2 L963.8,1036.3 L960.9,1036.4 L958.0,1036.4 L955.1,1036.5 L952.2,1036.6 L949.2,1036.5 L946.3,1036.4 L943.4,1036.1 L940.5,1035.5 L937.6,1034.3 L934.7,1030.0Z" fill="#000" opacity="1" filter="url(#blur1)"/>
</g>
<clipPath id="b2g1c"><rect x="762.8" y="1078.6" width="261.20000000000005" height="78.40000000000009"/></clipPath>
<linearGradient id="b2g1" x1="0" y1="0" x2="1" y2="0"><stop offset="0" stop-color="#dbdbdb"/><stop offset="0.5" stop-color="#dddddd"/><stop offset="1" stop-color="#dddddd"/></linearGradient>
<g clip-path="url(#b2g1c)">
<rect x="762.8" y="1078.6" width="261.20000000000005" height="78.40000000000009" fill="url(#b2g1)"/>
<path d="M780.0,1113.2 L782.9,1109.3 L785.8,1108.3 L788.7,1107.9 L791.6,1107.7 L794.5,1107.7 L797.5,1107.8 L800.4,1107.9 L803.3,1108.0 L806.2,1108.1 L809.1,1108.1 L812.0,1108.2 L814.9,1108.1 L817.8,1108.1 L820.7,1108.0 L823.6,1107.9 L826.5,1107.8 L829.5,1107.7 L832.4,1107.7 L835.3,1107.9 L838.2,1108.3 L841.1,1109.3 L844.0,1113.2 L844.0,1113.2 L841.1,1117.9 L838.2,1119.5 L835.3,1120.6 L832.4,1121.3 L829.5,1121.8 L826.5,1122.1 L823.6,1122.3 L820.7,1122.5 L817.8,1122.6 L814.9,1122.6 L812.0,1122.7 L809.1,1122.6 L806.2,1122.6 L803.3,1122.5 L800.4,1122.3 L797.5,1122.1 L794.5,1121.8 L791.6,1121.3 L788.7,1120.6 L785.8,1119.5 L782.9,1117.9 L780.0,1113.2Z" fill="#000" opacity="0.26" filter="url(#blur2)"/>
<path d="M783.0,1112.2 L785.6,1110.1 L788.3,1109.6 L790.9,1109.5 L793.5,1109.5 L796.2,1109.6 L798.8,1109.8 L801.5,1109.9 L804.1,1110.0 L806.7,1110.1 L809.4,1110.1 L812.0,1110.2 L814.6,1110.1 L817.3,1110.1 L819.9,1110.0 L822.5,1109.9 L825.2,1109.8 L827.8,1109.6 L830.5,1109.5 L833.1,1109.5 L835.7,1109.6 L838.4,1110.1 L841.0,1112.2 L841.0,1112.2 L838.4,1115.1 L835.7,1116.2 L833.1,1116.9 L830.5,1117.5 L827.8,1117.9 L825.2,1118.1 L822.5,1118.3 L819.9,1118.5 L817.3,1118.6 L814.6,1118.6 L812.0,1118.7 L809.4,1118.6 L806.7,1118.6 L804.1,1118.5 L801.5,1118.3 L798.8,1118.1 L796.2,1117.9 L793.5,1117.5 L790.9,1116.9 L788.3,1116.2 L785.6,1115.1 L783.0,1112.2Z" fill="#000" opacity="0.88" filter="url(#blur1)"/>
<path d="M858.3,1116.8 L861.3,1109.8 L864.4,1107.8 L867.4,1106.8 L870.5,1106.3 L873.5,1106.0 L876.6,1105.9 L879.6,1105.9 L882.7,1106.0 L885.7,1106.0 L888.8,1106.0 L891.8,1106.0 L894.8,1106.0 L897.9,1106.0 L900.9,1106.0 L904.0,1105.9 L907.0,1105.9 L910.1,1106.0 L913.1,1106.3 L916.2,1106.8 L919.2,1107.8 L922.3,1109.8 L925.3,1116.8 L925.3,1116.8 L922.3,1124.3 L919.2,1126.7 L916.2,1128.2 L913.1,1129.1 L910.1,1129.7 L907.0,1130.1 L904.0,1130.3 L900.9,1130.4 L897.9,1130.5 L894.8,1130.5 L891.8,1130.5 L888.8,1130.5 L885.7,1130.5 L882.7,1130.4 L879.6,1130.3 L876.6,1130.1 L873.5,1129.7 L870.5,1129.1 L867.4,1128.2 L864.4,1126.7 L861.3,1124.3 L858.3,1116.8Z" fill="#000" opacity="0.30" filter="url(#blur2)"/>
<path d="M861.3,1115.8 L864.1,1110.6 L866.8,1109.2 L869.6,1108.4 L872.4,1108.1 L875.2,1107.9 L877.9,1107.9 L880.7,1107.9 L883.5,1108.0 L886.3,1108.0 L889.0,1108.0 L891.8,1108.0 L894.6,1108.0 L897.3,1108.0 L900.1,1108.0 L902.9,1107.9 L905.7,1107.9 L908.4,1107.9 L911.2,1108.1 L914.0,1108.4 L916.8,1109.2 L919.5,1110.6 L922.3,1115.8 L922.3,1115.8 L919.5,1121.5 L916.8,1123.4 L914.0,1124.6 L911.2,1125.3 L908.4,1125.8 L905.7,1126.1 L902.9,1126.3 L900.1,1126.4 L897.3,1126.5 L894.6,1126.5 L891.8,1126.5 L889.0,1126.5 L886.3,1126.5 L883.5,1126.4 L880.7,1126.3 L877.9,1126.1 L875.2,1125.8 L872.4,1125.3 L869.6,1124.6 L866.8,1123.4 L864.1,1121.5 L861.3,1115.8Z" fill="#000" opacity="1" filter="url(#blur1)"/>
<path d="M936.7,1117.7 L939.7,1112.3 L942.6,1110.7 L945.6,1109.9 L948.5,1109.4 L951.5,1109.2 L954.4,1109.1 L957.4,1109.1 L960.3,1109.1 L963.3,1109.2 L966.2,1109.2 L969.2,1109.2 L972.2,1109.2 L975.1,1109.2 L978.1,1109.1 L981.0,1109.1 L984.0,1109.1 L986.9,1109.2 L989.9,1109.4 L992.8,1109.9 L995.8,1110.7 L998.7,1112.3 L1001.7,1117.7 L1001.7,1117.7 L998.7,1123.5 L995.8,1125.4 L992.8,1126.5 L989.9,1127.2 L986.9,1127.6 L984.0,1127.9 L981.0,1128.0 L978.1,1128.1 L975.1,1128.2 L972.2,1128.2 L969.2,1128.2 L966.2,1128.2 L963.3,1128.2 L960.3,1128.1 L957.4,1128.0 L954.4,1127.9 L951.5,1127.6 L948.5,1127.2 L945.6,1126.5 L942.6,1125.4 L939.7,1123.5 L936.7,1117.7Z" fill="#000" opacity="0.29" filter="url(#blur2)"/>
<path d="M939.7,1116.7 L942.4,1113.0 L945.1,1112.0 L947.7,1111.5 L950.4,1111.2 L953.1,1111.1 L955.8,1111.1 L958.5,1111.1 L961.2,1111.1 L963.8,1111.2 L966.5,1111.2 L969.2,1111.2 L971.9,1111.2 L974.6,1111.2 L977.2,1111.1 L979.9,1111.1 L982.6,1111.1 L985.3,1111.1 L988.0,1111.2 L990.7,1111.5 L993.3,1112.0 L996.0,1113.0 L998.7,1116.7 L998.7,1116.7 L996.0,1120.7 L993.3,1122.0 L990.7,1122.8 L988.0,1123.4 L985.3,1123.7 L982.6,1123.9 L979.9,1124.0 L977.2,1124.1 L974.6,1124.2 L971.9,1124.2 L969.2,1124.2 L966.5,1124.2 L963.8,1124.2 L961.2,1124.1 L958.5,1124.0 L955.8,1123.9 L953.1,1123.7 L950.4,1123.4 L947.7,1122.8 L945.1,1122.0 L942.4,1120.7 L939.7,1116.7Z" fill="#000" opacity="0.97" filter="url(#blur1)"/>
</g>
<clipPath id="b2g2c"><rect x="762.8" y="1164.7" width="261.20000000000005" height="75.5"/></clipPath>
<linearGradient id="b2g2" x1="0" y1="0" x2="1" y2="0"><stop offset="0" stop-color="#c7c7c7"/><stop offset="0.5" stop-color="#c6c6c6"/><stop offset="1" stop-color="#cacaca"/></linearGradient>
<g clip-path="url(#b2g2c)">
<rect x="762.8" y="1164.7" width="261.20000000000005" height="75.5" fill="url(#b2g2)"/>
<path d="M779.9,1199.1 L782.9,1193.1 L785.9,1191.4 L788.9,1190.6 L791.9,1190.1 L794.9,1190.0 L797.9,1189.9 L800.9,1190.0 L803.9,1190.0 L806.9,1190.1 L809.9,1190.1 L812.9,1190.2 L815.9,1190.1 L818.9,1190.1 L821.9,1190.0 L824.9,1190.0 L827.9,1189.9 L830.9,1190.0 L833.9,1190.1 L836.9,1190.6 L839.9,1191.4 L842.9,1193.1 L845.9,1199.1 L845.9,1199.1 L842.9,1205.8 L839.9,1208.0 L836.9,1209.3 L833.9,1210.2 L830.9,1210.8 L827.9,1211.1 L824.9,1211.4 L821.9,1211.5 L818.9,1211.6 L815.9,1211.6 L812.9,1211.7 L809.9,1211.6 L806.9,1211.6 L803.9,1211.5 L800.9,1211.4 L797.9,1211.1 L794.9,1210.8 L791.9,1210.2 L788.9,1209.3 L785.9,1208.0 L782.9,1205.8 L779.9,1199.1Z" fill="#000" opacity="0.30" filter="url(#blur2)"/>
<path d="M782.9,1198.1 L785.6,1193.8 L788.4,1192.7 L791.1,1192.2 L793.8,1191.9 L796.5,1191.9 L799.3,1191.9 L802.0,1192.0 L804.7,1192.0 L807.4,1192.1 L810.2,1192.1 L812.9,1192.2 L815.6,1192.1 L818.4,1192.1 L821.1,1192.0 L823.8,1192.0 L826.5,1191.9 L829.3,1191.9 L832.0,1191.9 L834.7,1192.2 L837.4,1192.7 L840.2,1193.8 L842.9,1198.1 L842.9,1198.1 L840.2,1203.0 L837.4,1204.7 L834.7,1205.7 L832.0,1206.4 L829.3,1206.9 L826.5,1207.2 L823.8,1207.4 L821.1,1207.5 L818.4,1207.6 L815.6,1207.6 L812.9,1207.7 L810.2,1207.6 L807.4,1207.6 L804.7,1207.5 L802.0,1207.4 L799.3,1207.2 L796.5,1206.9 L793.8,1206.4 L791.1,1205.7 L788.4,1204.7 L785.6,1203.0 L782.9,1198.1Z" fill="#000" opacity="1" filter="url(#blur1)"/>
<path d="M857.4,1198.0 L860.4,1192.0 L863.5,1190.4 L866.5,1189.6 L869.6,1189.2 L872.6,1189.0 L875.7,1189.0 L878.7,1189.0 L881.8,1189.1 L884.8,1189.2 L887.9,1189.2 L890.9,1189.2 L893.9,1189.2 L897.0,1189.2 L900.0,1189.1 L903.1,1189.0 L906.1,1189.0 L909.2,1189.0 L912.2,1189.2 L915.3,1189.6 L918.3,1190.4 L921.4,1192.0 L924.4,1198.0 L924.4,1198.0 L921.4,1204.7 L918.3,1207.0 L915.3,1208.3 L912.2,1209.2 L909.2,1209.8 L906.1,1210.2 L903.1,1210.4 L900.0,1210.6 L897.0,1210.7 L893.9,1210.7 L890.9,1210.8 L887.9,1210.7 L884.8,1210.7 L881.8,1210.6 L878.7,1210.4 L875.7,1210.2 L872.6,1209.8 L869.6,1209.2 L866.5,1208.3 L863.5,1207.0 L860.4,1204.7 L857.4,1198.0Z" fill="#000" opacity="0.30" filter="url(#blur2)"/>
<path d="M860.4,1197.0 L863.2,1192.8 L865.9,1191.7 L868.7,1191.2 L871.5,1191.0 L874.3,1190.9 L877.0,1190.9 L879.8,1191.0 L882.6,1191.1 L885.4,1191.2 L888.1,1191.2 L890.9,1191.2 L893.7,1191.2 L896.4,1191.2 L899.2,1191.1 L902.0,1191.0 L904.8,1190.9 L907.5,1190.9 L910.3,1191.0 L913.1,1191.2 L915.9,1191.7 L918.6,1192.8 L921.4,1197.0 L921.4,1197.0 L918.6,1201.9 L915.9,1203.6 L913.1,1204.7 L910.3,1205.4 L907.5,1205.9 L904.8,1206.2 L902.0,1206.4 L899.2,1206.6 L896.4,1206.7 L893.7,1206.7 L890.9,1206.8 L888.1,1206.7 L885.4,1206.7 L882.6,1206.6 L879.8,1206.4 L877.0,1206.2 L874.3,1205.9 L871.5,1205.4 L868.7,1204.7 L865.9,1203.6 L863.2,1201.9 L860.4,1197.0Z" fill="#000" opacity="1" filter="url(#blur1)"/>
<path d="M935.6,1200.5 L938.7,1194.2 L941.8,1192.3 L944.9,1191.4 L948.0,1190.8 L951.1,1190.6 L954.1,1190.5 L957.2,1190.4 L960.3,1190.4 L963.4,1190.5 L966.5,1190.5 L969.6,1190.5 L972.7,1190.5 L975.8,1190.5 L978.9,1190.4 L982.0,1190.4 L985.1,1190.5 L988.1,1190.6 L991.2,1190.8 L994.3,1191.4 L997.4,1192.3 L1000.5,1194.2 L1003.6,1200.5 L1003.6,1200.5 L1000.5,1207.2 L997.4,1209.3 L994.3,1210.6 L991.2,1211.4 L988.1,1211.8 L985.1,1212.1 L982.0,1212.3 L978.9,1212.4 L975.8,1212.5 L972.7,1212.5 L969.6,1212.5 L966.5,1212.5 L963.4,1212.5 L960.3,1212.4 L957.2,1212.3 L954.1,1212.1 L951.1,1211.8 L948.0,1211.4 L944.9,1210.6 L941.8,1209.3 L938.7,1207.2 L935.6,1200.5Z" fill="#000" opacity="0.30" filter="url(#blur2)"/>
<path d="M938.6,1199.5 L941.4,1194.9 L944.2,1193.7 L947.1,1193.0 L949.9,1192.6 L952.7,1192.5 L955.5,1192.4 L958.3,1192.4 L961.1,1192.4 L964.0,1192.5 L966.8,1192.5 L969.6,1192.5 L972.4,1192.5 L975.2,1192.5 L978.1,1192.4 L980.9,1192.4 L983.7,1192.4 L986.5,1192.5 L989.3,1192.6 L992.1,1193.0 L995.0,1193.7 L997.8,1194.9 L1000.6,1199.5 L1000.6,1199.5 L997.8,1204.4 L995.0,1206.0 L992.1,1207.0 L989.3,1207.6 L986.5,1207.9 L983.7,1208.2 L980.9,1208.3 L978.1,1208.4 L975.2,1208.5 L972.4,1208.5 L969.6,1208.5 L966.8,1208.5 L964.0,1208.5 L961.1,1208.4 L958.3,1208.3 L955.5,1208.2 L952.7,1207.9 L949.9,1207.6 L947.1,1207.0 L944.2,1206.0 L941.4,1204.4 L938.6,1199.5Z" fill="#000" opacity="1" filter="url(#blur1)"/>
</g>
<text x="745.90" y="1041.00" font-size="22.3" text-anchor="end" fill="#000">ki-67</text>
<text x="751.80" y="1124.80" font-size="23.2" text-anchor="end" fill="#000">c-caspase-3</text>
<text x="752.20" y="1210.20" font-size="23.1" text-anchor="end" fill="#000">GAPDH</text>
<line x1="1038.80" y1="1027.00" x2="1038.80" y2="1221.40" stroke="#000" stroke-width="5.6" stroke-linecap="butt"/>
<text x="1067.90" y="1125.50" font-size="23.3" text-anchor="middle" fill="#000" transform="rotate(-90 1067.90 1125.50)">J82</text>
<text x="765.60" y="1271.00" font-size="23.5" text-anchor="end" fill="#000">Control</text>
<text x="761.80" y="1310.90" font-size="23.7" text-anchor="end" fill="#000">NC inhibitor</text>
<text x="753.70" y="1351.00" font-size="23.3" text-anchor="end" fill="#000">miR-145-5p inhibitor</text>
<text x="806.30" y="1271.63" font-size="31" text-anchor="middle" fill="#000" stroke="#000" stroke-width="0.6">+</text>
<text x="900.00" y="1273.34" font-size="34" text-anchor="middle" fill="#000" stroke="#000" stroke-width="0.5">-</text>
<text x="976.50" y="1273.34" font-size="34" text-anchor="middle" fill="#000" stroke="#000" stroke-width="0.5">-</text>
<text x="803.00" y="1311.34" font-size="34" text-anchor="middle" fill="#000" stroke="#000" stroke-width="0.5">-</text>
<text x="899.40" y="1309.13" font-size="31" text-anchor="middle" fill="#000" stroke="#000" stroke-width="0.6">+</text>
<text x="976.50" y="1311.34" font-size="34" text-anchor="middle" fill="#000" stroke="#000" stroke-width="0.5">-</text>
<text x="803.00" y="1348.84" font-size="34" text-anchor="middle" fill="#000" stroke="#000" stroke-width="0.5">-</text>
<text x="900.00" y="1348.84" font-size="34" text-anchor="middle" fill="#000" stroke="#000" stroke-width="0.5">-</text>
<text x="976.50" y="1347.13" font-size="31" text-anchor="middle" fill="#000" stroke="#000" stroke-width="0.6">+</text>
</g>
</svg>
</body>
</html>
